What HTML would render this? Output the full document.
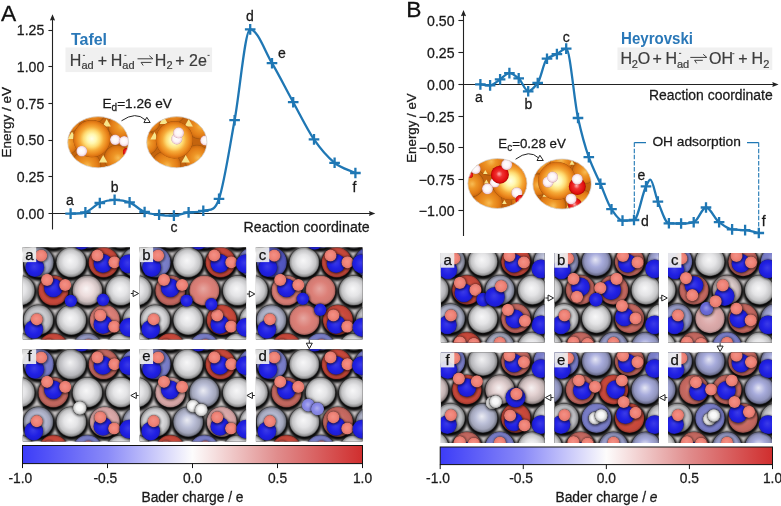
<!DOCTYPE html><html><head><meta charset="utf-8"><style>html,body{margin:0;padding:0;background:#fff;width:781px;height:506px;overflow:hidden}svg{display:block;will-change:transform}text{font-family:"Liberation Sans",sans-serif}</style></head><body>
<svg width="781" height="506" viewBox="0 0 781 506">
<defs>
<linearGradient id="cbar" x1="0" x2="1" y1="0" y2="0"><stop offset="0" stop-color="#3c3cf8"/><stop offset="0.25" stop-color="#8a8af8"/><stop offset="0.5" stop-color="#fdfcfc"/><stop offset="0.75" stop-color="#e08c8c"/><stop offset="1" stop-color="#d02e2e"/></linearGradient>
</defs>
<text x="1.00" y="20.90" font-size="22.80" text-anchor="start" fill="#111" font-weight="normal" stroke="#111" stroke-width="0.28" >A</text>
<text x="406.30" y="16.90" font-size="22.80" text-anchor="start" fill="#111" font-weight="normal" stroke="#111" stroke-width="0.28" >B</text>
<path d="M52.5,229.5V18" stroke="#222" stroke-width="1.1" fill="none"/>
<path d="M52.5,14.2 L49.9,20.6 L52.5,19.9 L55.1,20.6Z" fill="#222"/>
<path d="M48.5,213.5H371" stroke="#222" stroke-width="1.1" fill="none"/>
<path d="M375.3,213.5 L369,210.9 L369.7,213.5 L369,216.1Z" fill="#222"/>
<text x="44.30" y="218.50" font-size="14.10" text-anchor="end" fill="#1a1a1a" font-weight="normal" stroke="#1a1a1a" stroke-width="0.28" >0.00</text>
<path d="M48.4,176.50H52.5" stroke="#222" stroke-width="1.1"/>
<text x="44.30" y="181.86" font-size="14.10" text-anchor="end" fill="#1a1a1a" font-weight="normal" stroke="#1a1a1a" stroke-width="0.28" >0.25</text>
<path d="M48.4,140.50H52.5" stroke="#222" stroke-width="1.1"/>
<text x="44.30" y="145.22" font-size="14.10" text-anchor="end" fill="#1a1a1a" font-weight="normal" stroke="#1a1a1a" stroke-width="0.28" >0.50</text>
<path d="M48.4,103.50H52.5" stroke="#222" stroke-width="1.1"/>
<text x="44.30" y="108.58" font-size="14.10" text-anchor="end" fill="#1a1a1a" font-weight="normal" stroke="#1a1a1a" stroke-width="0.28" >0.75</text>
<path d="M48.4,66.50H52.5" stroke="#222" stroke-width="1.1"/>
<text x="44.30" y="71.94" font-size="14.10" text-anchor="end" fill="#1a1a1a" font-weight="normal" stroke="#1a1a1a" stroke-width="0.28" >1.00</text>
<path d="M48.4,30.50H52.5" stroke="#222" stroke-width="1.1"/>
<text x="44.30" y="35.30" font-size="14.10" text-anchor="end" fill="#1a1a1a" font-weight="normal" stroke="#1a1a1a" stroke-width="0.28" >1.25</text>
<text x="11.20" y="122.20" font-size="13.50" text-anchor="middle" fill="#1a1a1a" font-weight="normal" stroke="#1a1a1a" stroke-width="0.28" transform="rotate(-90 11.2 122.2)">Energy / eV</text>
<text x="243.60" y="231.50" font-size="14.00" text-anchor="start" fill="#1a1a1a" font-weight="normal" stroke="#1a1a1a" stroke-width="0.28" textLength="126" lengthAdjust="spacingAndGlyphs">Reaction coordinate</text>
<path d="M70.60,213.60 C75.53,213.20 80.47,214.19 85.40,212.40 C90.20,210.66 95.00,205.07 99.80,203.00 C104.73,200.87 109.67,199.90 114.60,199.80 C119.60,199.70 124.60,200.37 129.60,202.40 C134.60,204.43 139.60,209.90 144.60,212.00 C149.43,214.03 154.27,214.21 159.10,214.80 C164.03,215.41 168.97,216.00 173.90,215.60 C178.80,215.20 183.70,213.20 188.60,212.40 C193.50,211.60 198.40,212.99 203.30,210.80 C208.53,208.46 213.77,213.95 219.00,198.80 C224.20,183.75 229.40,148.43 234.60,120.20 C239.80,91.97 245.00,29.40 250.20,29.40 C257.47,29.40 264.73,50.90 272.00,63.20 C279.07,75.16 286.13,89.38 293.20,102.20 C300.13,114.78 307.07,129.25 314.00,139.40 C320.87,149.45 327.73,157.23 334.60,162.80 C341.53,168.43 348.47,169.60 355.40,173.00" stroke="#1f77b4" stroke-width="2.3" fill="none" stroke-linejoin="round"/>
<path d="M65.30,213.60H75.90M70.60,208.30V218.90" stroke="#1f77b4" stroke-width="2.30" fill="none"/>
<path d="M80.10,212.40H90.70M85.40,207.10V217.70" stroke="#1f77b4" stroke-width="2.30" fill="none"/>
<path d="M94.50,203.00H105.10M99.80,197.70V208.30" stroke="#1f77b4" stroke-width="2.30" fill="none"/>
<path d="M109.30,199.80H119.90M114.60,194.50V205.10" stroke="#1f77b4" stroke-width="2.30" fill="none"/>
<path d="M124.30,202.40H134.90M129.60,197.10V207.70" stroke="#1f77b4" stroke-width="2.30" fill="none"/>
<path d="M139.30,212.00H149.90M144.60,206.70V217.30" stroke="#1f77b4" stroke-width="2.30" fill="none"/>
<path d="M153.80,214.80H164.40M159.10,209.50V220.10" stroke="#1f77b4" stroke-width="2.30" fill="none"/>
<path d="M168.60,215.60H179.20M173.90,210.30V220.90" stroke="#1f77b4" stroke-width="2.30" fill="none"/>
<path d="M183.30,212.40H193.90M188.60,207.10V217.70" stroke="#1f77b4" stroke-width="2.30" fill="none"/>
<path d="M198.00,210.80H208.60M203.30,205.50V216.10" stroke="#1f77b4" stroke-width="2.30" fill="none"/>
<path d="M213.70,198.80H224.30M219.00,193.50V204.10" stroke="#1f77b4" stroke-width="2.30" fill="none"/>
<path d="M229.30,120.20H239.90M234.60,114.90V125.50" stroke="#1f77b4" stroke-width="2.30" fill="none"/>
<path d="M244.90,29.40H255.50M250.20,24.10V34.70" stroke="#1f77b4" stroke-width="2.30" fill="none"/>
<path d="M266.70,63.20H277.30M272.00,57.90V68.50" stroke="#1f77b4" stroke-width="2.30" fill="none"/>
<path d="M287.90,102.20H298.50M293.20,96.90V107.50" stroke="#1f77b4" stroke-width="2.30" fill="none"/>
<path d="M308.70,139.40H319.30M314.00,134.10V144.70" stroke="#1f77b4" stroke-width="2.30" fill="none"/>
<path d="M329.30,162.80H339.90M334.60,157.50V168.10" stroke="#1f77b4" stroke-width="2.30" fill="none"/>
<path d="M350.10,173.00H360.70M355.40,167.70V178.30" stroke="#1f77b4" stroke-width="2.30" fill="none"/>
<text x="70.00" y="205.00" font-size="14.00" text-anchor="middle" fill="#1a1a1a" font-weight="normal" stroke="#1a1a1a" stroke-width="0.28" >a</text>
<text x="114.60" y="191.50" font-size="14.00" text-anchor="middle" fill="#1a1a1a" font-weight="normal" stroke="#1a1a1a" stroke-width="0.28" >b</text>
<text x="174.00" y="231.50" font-size="14.00" text-anchor="middle" fill="#1a1a1a" font-weight="normal" stroke="#1a1a1a" stroke-width="0.28" >c</text>
<text x="249.80" y="21.00" font-size="14.00" text-anchor="middle" fill="#1a1a1a" font-weight="normal" stroke="#1a1a1a" stroke-width="0.28" >d</text>
<text x="282.00" y="58.00" font-size="14.00" text-anchor="middle" fill="#1a1a1a" font-weight="normal" stroke="#1a1a1a" stroke-width="0.28" >e</text>
<text x="354.50" y="192.00" font-size="14.00" text-anchor="middle" fill="#1a1a1a" font-weight="normal" stroke="#1a1a1a" stroke-width="0.28" >f</text>
<text x="70.90" y="44.50" font-size="16.00" text-anchor="start" fill="#2a78b8" font-weight="bold" >Tafel</text>
<rect x="65.5" y="47.5" width="146.6" height="24.6" fill="#f0f0f0"/>
<text x="69.80" y="65.60" font-size="16.0" fill="#3c3c3c" stroke="#3c3c3c" stroke-width="0.22">H</text>
<text x="81.40" y="68.60" font-size="11.0" fill="#3c3c3c" stroke="#3c3c3c" stroke-width="0.22">ad</text>
<path d="M82.90,55.40H85.00" stroke="#3c3c3c" stroke-width="0.9"/>
<text x="97.80" y="65.60" font-size="16.0" fill="#3c3c3c" stroke="#3c3c3c" stroke-width="0.22">+</text>
<text x="110.80" y="65.60" font-size="16.0" fill="#3c3c3c" stroke="#3c3c3c" stroke-width="0.22">H</text>
<text x="122.30" y="68.60" font-size="11.0" fill="#3c3c3c" stroke="#3c3c3c" stroke-width="0.22">ad</text>
<path d="M124.40,55.40H126.40" stroke="#3c3c3c" stroke-width="0.9"/>
<path d="M137.50,58.80H152.90L149.30,55.70M151.40,62.40H141.10M141.10,62.40L143.20,65.50" stroke="#3c3c3c" stroke-width="1" fill="none"/>
<text x="154.70" y="65.60" font-size="16.0" fill="#3c3c3c" stroke="#3c3c3c" stroke-width="0.22">H</text>
<text x="166.60" y="68.70" font-size="11.0" fill="#3c3c3c" stroke="#3c3c3c" stroke-width="0.22">2</text>
<text x="175.20" y="65.60" font-size="16.0" fill="#3c3c3c" stroke="#3c3c3c" stroke-width="0.22">+</text>
<text x="189.00" y="65.60" font-size="16.0" fill="#3c3c3c" stroke="#3c3c3c" stroke-width="0.22">2e</text>
<path d="M207.50,55.40H209.60" stroke="#3c3c3c" stroke-width="0.9"/>
<text x="102.5" y="108.4" font-size="13.6" fill="#1a1a1a" stroke="#1a1a1a" stroke-width="0.28">E<tspan font-size="10" dy="3">d</tspan><tspan dy="-3">=1.26 eV</tspan></text>
<path d="M463.5,236V14" stroke="#222" stroke-width="1.1" fill="none"/>
<path d="M463.5,9.9 L460.9,16.3 L463.5,15.6 L466.1,16.3Z" fill="#222"/>
<path d="M463.5,84.5H773" stroke="#222" stroke-width="1.1" fill="none"/>
<path d="M778.6,84.5 L772.3,81.9 L773,84.5 L772.3,87.1Z" fill="#222"/>
<path d="M458.4,20.50H463.5" stroke="#222" stroke-width="1.1"/>
<text x="454.50" y="25.50" font-size="14.10" text-anchor="end" fill="#1a1a1a" font-weight="normal" stroke="#1a1a1a" stroke-width="0.28" >0.50</text>
<path d="M458.4,52.50H463.5" stroke="#222" stroke-width="1.1"/>
<text x="454.50" y="57.50" font-size="14.10" text-anchor="end" fill="#1a1a1a" font-weight="normal" stroke="#1a1a1a" stroke-width="0.28" >0.25</text>
<path d="M458.4,84.50H463.5" stroke="#222" stroke-width="1.1"/>
<text x="454.50" y="89.50" font-size="14.10" text-anchor="end" fill="#1a1a1a" font-weight="normal" stroke="#1a1a1a" stroke-width="0.28" >0.00</text>
<path d="M458.4,116.50H463.5" stroke="#222" stroke-width="1.1"/>
<text x="454.50" y="121.50" font-size="14.10" text-anchor="end" fill="#1a1a1a" font-weight="normal" stroke="#1a1a1a" stroke-width="0.28" >−0.25</text>
<path d="M458.4,147.50H463.5" stroke="#222" stroke-width="1.1"/>
<text x="454.50" y="153.00" font-size="14.10" text-anchor="end" fill="#1a1a1a" font-weight="normal" stroke="#1a1a1a" stroke-width="0.28" >−0.50</text>
<path d="M458.4,179.50H463.5" stroke="#222" stroke-width="1.1"/>
<text x="454.50" y="184.50" font-size="14.10" text-anchor="end" fill="#1a1a1a" font-weight="normal" stroke="#1a1a1a" stroke-width="0.28" >−0.75</text>
<path d="M458.4,210.50H463.5" stroke="#222" stroke-width="1.1"/>
<text x="454.50" y="216.00" font-size="14.10" text-anchor="end" fill="#1a1a1a" font-weight="normal" stroke="#1a1a1a" stroke-width="0.28" >−1.00</text>
<text x="416.30" y="128.00" font-size="13.30" text-anchor="middle" fill="#1a1a1a" font-weight="normal" stroke="#1a1a1a" stroke-width="0.28" transform="rotate(-90 416.3 128)">Energy / eV</text>
<text x="648.90" y="100.40" font-size="14.00" text-anchor="start" fill="#1a1a1a" font-weight="normal" stroke="#1a1a1a" stroke-width="0.28" textLength="123.8" lengthAdjust="spacingAndGlyphs">Reaction coordinate</text>
<path d="M634.3,142.6H646M747,142.6H758.7" stroke="#1f77b4" stroke-width="1.1" fill="none"/>
<path d="M634.3,142.6V219.5M758.7,142.6V231" stroke="#1f77b4" stroke-width="1.1" fill="none" stroke-dasharray="4.5,1.6"/>
<text x="652.40" y="145.70" font-size="13.60" text-anchor="start" fill="#1a1a1a" font-weight="normal" stroke="#1a1a1a" stroke-width="0.28" textLength="88.5" lengthAdjust="spacingAndGlyphs">OH adsorption</text>
<path d="M480.40,84.40 C483.63,84.73 486.87,85.40 490.10,85.40 C493.43,85.40 496.77,81.52 500.10,79.40 C503.20,77.43 506.30,73.10 509.40,73.10 C512.50,73.10 515.60,75.91 518.70,78.40 C521.87,80.94 525.03,91.30 528.20,91.30 C531.37,91.30 534.53,87.15 537.70,83.00 C540.80,78.93 543.90,61.16 547.00,58.70 C550.30,56.08 553.60,55.82 556.90,54.10 C560.00,52.48 563.10,48.60 566.20,48.60 C570.13,48.60 574.07,100.40 578.00,118.00 C581.60,134.10 585.20,147.05 588.80,157.20 C592.67,168.10 596.53,174.94 600.40,183.80 C604.10,192.28 607.80,203.92 611.50,209.20 C615.17,214.43 618.83,220.60 622.50,220.60 C626.33,220.60 630.17,220.39 634.00,220.00 C638.00,219.59 642.00,194.15 646.00,186.40 C647.43,183.62 648.87,179.60 650.30,179.60 C652.83,179.60 655.37,195.59 657.90,201.60 C661.57,210.30 665.23,223.18 668.90,223.30 C672.97,223.43 677.03,223.50 681.10,223.50 C685.30,223.50 689.50,223.04 693.70,222.30 C697.80,221.57 701.90,207.50 706.00,207.50 C710.37,207.50 714.73,218.96 719.10,222.20 C723.43,225.41 727.77,228.97 732.10,229.40 C736.43,229.83 740.77,229.73 745.10,230.10 C749.67,230.49 754.23,232.03 758.80,233.00" stroke="#1f77b4" stroke-width="2.3" fill="none" stroke-linejoin="round"/>
<path d="M475.10,84.40H485.70M480.40,79.10V89.70" stroke="#1f77b4" stroke-width="2.30" fill="none"/>
<path d="M484.80,85.40H495.40M490.10,80.10V90.70" stroke="#1f77b4" stroke-width="2.30" fill="none"/>
<path d="M494.80,79.40H505.40M500.10,74.10V84.70" stroke="#1f77b4" stroke-width="2.30" fill="none"/>
<path d="M504.10,73.10H514.70M509.40,67.80V78.40" stroke="#1f77b4" stroke-width="2.30" fill="none"/>
<path d="M513.40,78.40H524.00M518.70,73.10V83.70" stroke="#1f77b4" stroke-width="2.30" fill="none"/>
<path d="M522.90,91.30H533.50M528.20,86.00V96.60" stroke="#1f77b4" stroke-width="2.30" fill="none"/>
<path d="M532.40,83.00H543.00M537.70,77.70V88.30" stroke="#1f77b4" stroke-width="2.30" fill="none"/>
<path d="M541.70,58.70H552.30M547.00,53.40V64.00" stroke="#1f77b4" stroke-width="2.30" fill="none"/>
<path d="M551.60,54.10H562.20M556.90,48.80V59.40" stroke="#1f77b4" stroke-width="2.30" fill="none"/>
<path d="M560.90,48.60H571.50M566.20,43.30V53.90" stroke="#1f77b4" stroke-width="2.30" fill="none"/>
<path d="M572.70,118.00H583.30M578.00,112.70V123.30" stroke="#1f77b4" stroke-width="2.30" fill="none"/>
<path d="M583.50,157.20H594.10M588.80,151.90V162.50" stroke="#1f77b4" stroke-width="2.30" fill="none"/>
<path d="M595.10,183.80H605.70M600.40,178.50V189.10" stroke="#1f77b4" stroke-width="2.30" fill="none"/>
<path d="M606.20,209.20H616.80M611.50,203.90V214.50" stroke="#1f77b4" stroke-width="2.30" fill="none"/>
<path d="M617.20,220.60H627.80M622.50,215.30V225.90" stroke="#1f77b4" stroke-width="2.30" fill="none"/>
<path d="M628.70,220.00H639.30M634.00,214.70V225.30" stroke="#1f77b4" stroke-width="2.30" fill="none"/>
<path d="M640.70,186.40H651.30M646.00,181.10V191.70" stroke="#1f77b4" stroke-width="2.30" fill="none"/>
<path d="M652.60,201.60H663.20M657.90,196.30V206.90" stroke="#1f77b4" stroke-width="2.30" fill="none"/>
<path d="M663.60,223.30H674.20M668.90,218.00V228.60" stroke="#1f77b4" stroke-width="2.30" fill="none"/>
<path d="M675.80,223.50H686.40M681.10,218.20V228.80" stroke="#1f77b4" stroke-width="2.30" fill="none"/>
<path d="M688.40,222.30H699.00M693.70,217.00V227.60" stroke="#1f77b4" stroke-width="2.30" fill="none"/>
<path d="M700.70,207.50H711.30M706.00,202.20V212.80" stroke="#1f77b4" stroke-width="2.30" fill="none"/>
<path d="M713.80,222.20H724.40M719.10,216.90V227.50" stroke="#1f77b4" stroke-width="2.30" fill="none"/>
<path d="M726.80,229.40H737.40M732.10,224.10V234.70" stroke="#1f77b4" stroke-width="2.30" fill="none"/>
<path d="M739.80,230.10H750.40M745.10,224.80V235.40" stroke="#1f77b4" stroke-width="2.30" fill="none"/>
<path d="M753.50,233.00H764.10M758.80,227.70V238.30" stroke="#1f77b4" stroke-width="2.30" fill="none"/>
<text x="479.00" y="101.50" font-size="14.00" text-anchor="middle" fill="#1a1a1a" font-weight="normal" stroke="#1a1a1a" stroke-width="0.28" >a</text>
<text x="528.50" y="108.50" font-size="14.00" text-anchor="middle" fill="#1a1a1a" font-weight="normal" stroke="#1a1a1a" stroke-width="0.28" >b</text>
<text x="566.30" y="41.50" font-size="14.00" text-anchor="middle" fill="#1a1a1a" font-weight="normal" stroke="#1a1a1a" stroke-width="0.28" >c</text>
<text x="645.00" y="226.00" font-size="14.00" text-anchor="middle" fill="#1a1a1a" font-weight="normal" stroke="#1a1a1a" stroke-width="0.28" >d</text>
<text x="641.30" y="180.00" font-size="14.00" text-anchor="middle" fill="#1a1a1a" font-weight="normal" stroke="#1a1a1a" stroke-width="0.28" >e</text>
<text x="763.80" y="226.00" font-size="14.00" text-anchor="middle" fill="#1a1a1a" font-weight="normal" stroke="#1a1a1a" stroke-width="0.28" >f</text>
<text x="621.00" y="43.90" font-size="16.00" text-anchor="start" fill="#2a78b8" font-weight="bold" textLength="72" lengthAdjust="spacingAndGlyphs">Heyrovski</text>
<rect x="617.5" y="47.5" width="154.8" height="22.5" fill="#f0f0f0"/>
<text x="620.40" y="64.20" font-size="16.0" fill="#3c3c3c" stroke="#3c3c3c" stroke-width="0.22">H</text>
<text x="631.85" y="67.50" font-size="11.0" fill="#3c3c3c" stroke="#3c3c3c" stroke-width="0.22">2</text>
<text x="637.70" y="64.20" font-size="16.0" fill="#3c3c3c" stroke="#3c3c3c" stroke-width="0.22">O</text>
<text x="652.60" y="64.20" font-size="16.0" fill="#3c3c3c" stroke="#3c3c3c" stroke-width="0.22">+</text>
<text x="665.40" y="64.20" font-size="16.0" fill="#3c3c3c" stroke="#3c3c3c" stroke-width="0.22">H</text>
<text x="677.00" y="67.50" font-size="11.0" fill="#3c3c3c" stroke="#3c3c3c" stroke-width="0.22">ad</text>
<path d="M679.00,53.40H681.20" stroke="#3c3c3c" stroke-width="0.9"/>
<path d="M690.30,57.40H706.80L703.20,54.30M702.80,60.30H694.60M694.60,60.30L696.70,63.40" stroke="#3c3c3c" stroke-width="1" fill="none"/>
<text x="709.10" y="64.20" font-size="16.0" fill="#3c3c3c" stroke="#3c3c3c" stroke-width="0.22">OH</text>
<path d="M732.30,53.70H734.40" stroke="#3c3c3c" stroke-width="0.9"/>
<text x="738.30" y="64.20" font-size="16.0" fill="#3c3c3c" stroke="#3c3c3c" stroke-width="0.22">+</text>
<text x="751.60" y="64.20" font-size="16.0" fill="#3c3c3c" stroke="#3c3c3c" stroke-width="0.22">H</text>
<text x="763.15" y="67.50" font-size="11.0" fill="#3c3c3c" stroke="#3c3c3c" stroke-width="0.22">2</text>
<text x="498.3" y="148.3" font-size="13.3" fill="#1a1a1a" stroke="#1a1a1a" stroke-width="0.28">E<tspan font-size="10" dy="3">c</tspan><tspan dy="-3">=0.28 eV</tspan></text>
<rect x="22.50" y="445.50" width="340.00" height="18.10" fill="url(#cbar)" stroke="#111" stroke-width="1"/><path d="M22.50,463.60V468.10" stroke="#111" stroke-width="1"/><text x="20.30" y="483.30" font-size="13.80" text-anchor="middle" fill="#1a1a1a" font-weight="normal" stroke="#1a1a1a" stroke-width="0.28" >-1.0</text><path d="M107.50,463.60V468.10" stroke="#111" stroke-width="1"/><text x="105.30" y="483.30" font-size="13.80" text-anchor="middle" fill="#1a1a1a" font-weight="normal" stroke="#1a1a1a" stroke-width="0.28" >-0.5</text><path d="M192.50,463.60V468.10" stroke="#111" stroke-width="1"/><text x="192.50" y="483.30" font-size="13.80" text-anchor="middle" fill="#1a1a1a" font-weight="normal" stroke="#1a1a1a" stroke-width="0.28" >0.0</text><path d="M277.50,463.60V468.10" stroke="#111" stroke-width="1"/><text x="277.50" y="483.30" font-size="13.80" text-anchor="middle" fill="#1a1a1a" font-weight="normal" stroke="#1a1a1a" stroke-width="0.28" >0.5</text><path d="M362.50,463.60V468.10" stroke="#111" stroke-width="1"/><text x="362.50" y="483.30" font-size="13.80" text-anchor="middle" fill="#1a1a1a" font-weight="normal" stroke="#1a1a1a" stroke-width="0.28" >1.0</text><text x="192.50" y="502.00" font-size="13.80" text-anchor="middle" fill="#1a1a1a" font-weight="normal" stroke="#1a1a1a" stroke-width="0.28" >Bader charge / e</text>
<rect x="440.20" y="447.00" width="332.30" height="17.60" fill="url(#cbar)" stroke="#111" stroke-width="1"/><path d="M440.20,464.60V469.10" stroke="#111" stroke-width="1"/><text x="438.00" y="483.30" font-size="13.80" text-anchor="middle" fill="#1a1a1a" font-weight="normal" stroke="#1a1a1a" stroke-width="0.28" >-1.0</text><path d="M523.27,464.60V469.10" stroke="#111" stroke-width="1"/><text x="521.07" y="483.30" font-size="13.80" text-anchor="middle" fill="#1a1a1a" font-weight="normal" stroke="#1a1a1a" stroke-width="0.28" >-0.5</text><path d="M606.35,464.60V469.10" stroke="#111" stroke-width="1"/><text x="606.35" y="483.30" font-size="13.80" text-anchor="middle" fill="#1a1a1a" font-weight="normal" stroke="#1a1a1a" stroke-width="0.28" >0.0</text><path d="M689.42,464.60V469.10" stroke="#111" stroke-width="1"/><text x="689.42" y="483.30" font-size="13.80" text-anchor="middle" fill="#1a1a1a" font-weight="normal" stroke="#1a1a1a" stroke-width="0.28" >0.5</text><path d="M772.50,464.60V469.10" stroke="#111" stroke-width="1"/><text x="772.50" y="483.30" font-size="13.80" text-anchor="middle" fill="#1a1a1a" font-weight="normal" stroke="#1a1a1a" stroke-width="0.28" >1.0</text><text x="606.50" y="502.00" font-size="13.80" text-anchor="middle" fill="#1a1a1a" font-weight="normal" stroke="#1a1a1a" stroke-width="0.28" >Bader charge / <tspan font-style="italic">e</tspan></text>
<defs><filter id="blr" x="-20%" y="-20%" width="140%" height="140%"><feGaussianBlur stdDeviation="1.0"/></filter>
<radialGradient id="gW" cx="0.5" cy="0.5" r="0.5" fx="0.46" fy="0.44"><stop offset="0.00" stop-color="#f7f7f8"/><stop offset="0.45" stop-color="#e4e4e6"/><stop offset="0.78" stop-color="#c4c4c6"/><stop offset="0.93" stop-color="#929293"/><stop offset="1.00" stop-color="#444445"/></radialGradient><radialGradient id="gW2" cx="0.5" cy="0.5" r="0.5" fx="0.46" fy="0.44"><stop offset="0.00" stop-color="#f2f2f3"/><stop offset="0.45" stop-color="#d4d4d8"/><stop offset="0.78" stop-color="#b6b6ba"/><stop offset="0.93" stop-color="#88888a"/><stop offset="1.00" stop-color="#404041"/></radialGradient><radialGradient id="gG" cx="0.5" cy="0.5" r="0.5" fx="0.46" fy="0.44"><stop offset="0.00" stop-color="#ebecf3"/><stop offset="0.45" stop-color="#bcc0d8"/><stop offset="0.78" stop-color="#a2a5ba"/><stop offset="0.93" stop-color="#787b8a"/><stop offset="1.00" stop-color="#383a41"/></radialGradient><radialGradient id="gLB" cx="0.5" cy="0.5" r="0.5" fx="0.46" fy="0.44"><stop offset="0.00" stop-color="#e5e6f4"/><stop offset="0.45" stop-color="#a8acdc"/><stop offset="0.78" stop-color="#9094bd"/><stop offset="0.93" stop-color="#6c6e8d"/><stop offset="1.00" stop-color="#323442"/></radialGradient><radialGradient id="gMB" cx="0.5" cy="0.5" r="0.5" fx="0.46" fy="0.44"><stop offset="0.00" stop-color="#a3a6db"/><stop offset="0.55" stop-color="#7c80cc"/><stop offset="0.86" stop-color="#767ac2"/><stop offset="0.95" stop-color="#6366a3"/><stop offset="1.00" stop-color="#3e4066"/></radialGradient><radialGradient id="gDB" cx="0.5" cy="0.5" r="0.5" fx="0.46" fy="0.44"><stop offset="0.00" stop-color="#878ad6"/><stop offset="0.55" stop-color="#5458c4"/><stop offset="0.86" stop-color="#5054ba"/><stop offset="0.95" stop-color="#43469d"/><stop offset="1.00" stop-color="#2a2c62"/></radialGradient><radialGradient id="gPW" cx="0.5" cy="0.5" r="0.5" fx="0.46" fy="0.44"><stop offset="0.00" stop-color="#f9f4f4"/><stop offset="0.45" stop-color="#ecdcdc"/><stop offset="0.78" stop-color="#cbbdbd"/><stop offset="0.93" stop-color="#978d8d"/><stop offset="1.00" stop-color="#474242"/></radialGradient><radialGradient id="gPW2" cx="0.5" cy="0.5" r="0.5" fx="0.46" fy="0.44"><stop offset="0.00" stop-color="#f6f1f1"/><stop offset="0.45" stop-color="#e2d0d0"/><stop offset="0.78" stop-color="#c2b3b3"/><stop offset="0.93" stop-color="#918585"/><stop offset="1.00" stop-color="#443e3e"/></radialGradient><radialGradient id="gP" cx="0.5" cy="0.5" r="0.5" fx="0.46" fy="0.44"><stop offset="0.00" stop-color="#e6c4c4"/><stop offset="0.55" stop-color="#dcaaaa"/><stop offset="0.86" stop-color="#d1a2a2"/><stop offset="0.95" stop-color="#b08888"/><stop offset="1.00" stop-color="#6e5555"/></radialGradient><radialGradient id="gS" cx="0.5" cy="0.5" r="0.5" fx="0.46" fy="0.44"><stop offset="0.00" stop-color="#e6a6a0"/><stop offset="0.55" stop-color="#dc8078"/><stop offset="0.86" stop-color="#d17a72"/><stop offset="0.95" stop-color="#b06660"/><stop offset="1.00" stop-color="#6e403c"/></radialGradient><radialGradient id="gRP" cx="0.5" cy="0.5" r="0.5" fx="0.46" fy="0.44"><stop offset="0.00" stop-color="#d89791"/><stop offset="0.55" stop-color="#c86a62"/><stop offset="0.86" stop-color="#be655d"/><stop offset="0.95" stop-color="#a0554e"/><stop offset="1.00" stop-color="#643531"/></radialGradient><radialGradient id="gR" cx="0.5" cy="0.5" r="0.5" fx="0.46" fy="0.44"><stop offset="0.00" stop-color="#db8076"/><stop offset="0.55" stop-color="#cc4a3c"/><stop offset="0.86" stop-color="#c24639"/><stop offset="0.95" stop-color="#a33b30"/><stop offset="1.00" stop-color="#66251e"/></radialGradient><radialGradient id="gN" cx="0.5" cy="0.5" r="0.5" fx="0.46" fy="0.44"><stop offset="0.00" stop-color="#3b3be7"/><stop offset="0.60" stop-color="#2020e4"/><stop offset="0.90" stop-color="#1d1dd2"/><stop offset="1.00" stop-color="#151594"/></radialGradient><radialGradient id="gn" cx="0.5" cy="0.5" r="0.5" fx="0.46" fy="0.44"><stop offset="0.00" stop-color="#4c4ceb"/><stop offset="0.60" stop-color="#3434e8"/><stop offset="0.90" stop-color="#3030d5"/><stop offset="1.00" stop-color="#222297"/></radialGradient><radialGradient id="gh" cx="0.5" cy="0.5" r="0.5" fx="0.46" fy="0.44"><stop offset="0.00" stop-color="#f29186"/><stop offset="0.60" stop-color="#f08276"/><stop offset="0.90" stop-color="#dd786d"/><stop offset="1.00" stop-color="#9c544d"/></radialGradient><radialGradient id="gH" cx="0.5" cy="0.5" r="0.5" fx="0.46" fy="0.44"><stop offset="0.00" stop-color="#fcfcfc"/><stop offset="0.45" stop-color="#f6f6f6"/><stop offset="0.78" stop-color="#d4d4d4"/><stop offset="0.93" stop-color="#9d9d9d"/><stop offset="1.00" stop-color="#4a4a4a"/></radialGradient><radialGradient id="gHb" cx="0.5" cy="0.5" r="0.5" fx="0.46" fy="0.44"><stop offset="0.00" stop-color="#adadef"/><stop offset="0.55" stop-color="#8a8ae8"/><stop offset="0.86" stop-color="#8383dc"/><stop offset="0.95" stop-color="#6e6eba"/><stop offset="1.00" stop-color="#454574"/></radialGradient><radialGradient id="gHb2" cx="0.5" cy="0.5" r="0.5" fx="0.46" fy="0.44"><stop offset="0.00" stop-color="#9797e4"/><stop offset="0.55" stop-color="#6a6ad8"/><stop offset="0.86" stop-color="#6565cd"/><stop offset="0.95" stop-color="#5555ad"/><stop offset="1.00" stop-color="#35356c"/></radialGradient>
<clipPath id="clip0"><rect x="22.8" y="247.3" width="107.2" height="92.2"/></clipPath>
<clipPath id="clip1"><rect x="139.7" y="247.3" width="106.4" height="92.2"/></clipPath>
<clipPath id="clip2"><rect x="255.9" y="247.3" width="106.6" height="92.2"/></clipPath>
<clipPath id="clip3"><rect x="22.8" y="349.2" width="107.2" height="92.4"/></clipPath>
<clipPath id="clip4"><rect x="139.7" y="349.2" width="106.4" height="92.4"/></clipPath>
<clipPath id="clip5"><rect x="255.9" y="349.2" width="106.6" height="92.4"/></clipPath>
<clipPath id="clip6"><rect x="440.9" y="252.9" width="103.7" height="89.6"/></clipPath>
<clipPath id="clip7"><rect x="554.5" y="252.9" width="104.3" height="89.6"/></clipPath>
<clipPath id="clip8"><rect x="668.0" y="252.9" width="104.0" height="89.6"/></clipPath>
<clipPath id="clip9"><rect x="440.9" y="352.6" width="103.7" height="90.4"/></clipPath>
<clipPath id="clip10"><rect x="554.5" y="352.6" width="104.3" height="90.4"/></clipPath>
<clipPath id="clip11"><rect x="668.0" y="352.6" width="104.0" height="90.4"/></clipPath>
</defs>
<g clip-path="url(#clip0)"><rect x="22.8" y="247.3" width="107.2" height="92.2" fill="#c6c2c2"/><circle cx="20.0" cy="235.1" r="17.0" fill="#000" opacity="0.95" filter="url(#blr)"/><circle cx="19.8" cy="233.5" r="15.1" fill="url(#gW)"/><circle cx="53.6" cy="235.1" r="17.0" fill="#000" opacity="0.95" filter="url(#blr)"/><circle cx="53.4" cy="233.5" r="15.1" fill="url(#gW)"/><circle cx="87.6" cy="235.1" r="17.0" fill="#000" opacity="0.95" filter="url(#blr)"/><circle cx="87.4" cy="233.5" r="15.1" fill="url(#gMB)"/><circle cx="121.0" cy="235.1" r="17.0" fill="#000" opacity="0.95" filter="url(#blr)"/><circle cx="120.8" cy="233.5" r="15.1" fill="url(#gW)"/><circle cx="39.0" cy="263.9" r="17.0" fill="#000" opacity="0.95" filter="url(#blr)"/><circle cx="38.8" cy="262.3" r="15.1" fill="url(#gG)"/><circle cx="71.4" cy="263.9" r="17.0" fill="#000" opacity="0.95" filter="url(#blr)"/><circle cx="71.2" cy="262.3" r="15.1" fill="url(#gW)"/><circle cx="103.8" cy="263.9" r="17.0" fill="#000" opacity="0.95" filter="url(#blr)"/><circle cx="103.6" cy="262.3" r="15.1" fill="url(#gR)"/><circle cx="136.4" cy="263.9" r="17.0" fill="#000" opacity="0.95" filter="url(#blr)"/><circle cx="136.2" cy="262.3" r="15.1" fill="url(#gG)"/><circle cx="20.0" cy="292.1" r="17.0" fill="#000" opacity="0.95" filter="url(#blr)"/><circle cx="19.8" cy="290.5" r="15.1" fill="url(#gW)"/><circle cx="53.6" cy="292.1" r="17.0" fill="#000" opacity="0.95" filter="url(#blr)"/><circle cx="53.4" cy="290.5" r="15.1" fill="url(#gR)"/><circle cx="87.6" cy="292.1" r="17.0" fill="#000" opacity="0.95" filter="url(#blr)"/><circle cx="87.4" cy="290.5" r="15.1" fill="url(#gPW)"/><circle cx="121.0" cy="292.1" r="17.0" fill="#000" opacity="0.95" filter="url(#blr)"/><circle cx="120.8" cy="290.5" r="15.1" fill="url(#gW)"/><circle cx="38.6" cy="321.5" r="17.0" fill="#000" opacity="0.95" filter="url(#blr)"/><circle cx="38.4" cy="319.9" r="15.1" fill="url(#gW2)"/><circle cx="71.5" cy="321.5" r="17.0" fill="#000" opacity="0.95" filter="url(#blr)"/><circle cx="71.3" cy="319.9" r="15.1" fill="url(#gW)"/><circle cx="105.0" cy="321.5" r="17.0" fill="#000" opacity="0.95" filter="url(#blr)"/><circle cx="104.8" cy="319.9" r="15.1" fill="url(#gS)"/><circle cx="138.0" cy="321.5" r="17.0" fill="#000" opacity="0.95" filter="url(#blr)"/><circle cx="137.8" cy="319.9" r="15.1" fill="url(#gW2)"/><circle cx="20.0" cy="349.9" r="17.0" fill="#000" opacity="0.95" filter="url(#blr)"/><circle cx="19.8" cy="348.3" r="15.1" fill="url(#gW)"/><circle cx="53.6" cy="349.9" r="17.0" fill="#000" opacity="0.95" filter="url(#blr)"/><circle cx="53.4" cy="348.3" r="15.1" fill="url(#gR)"/><circle cx="87.6" cy="349.9" r="17.0" fill="#000" opacity="0.95" filter="url(#blr)"/><circle cx="87.4" cy="348.3" r="15.1" fill="url(#gLB)"/><circle cx="121.0" cy="349.9" r="17.0" fill="#000" opacity="0.95" filter="url(#blr)"/><circle cx="120.8" cy="348.3" r="15.1" fill="url(#gW)"/><circle cx="35.1" cy="268.0" r="10.2" fill="#000" opacity="0.55" filter="url(#blr)"/><circle cx="34.8" cy="267.5" r="9.4" fill="url(#gN)"/><circle cx="41.5" cy="256.1" r="6.9" fill="#000" opacity="0.55" filter="url(#blr)"/><circle cx="41.2" cy="255.6" r="6.1" fill="url(#gh)"/><circle cx="103.3" cy="264.0" r="10.2" fill="#000" opacity="0.55" filter="url(#blr)"/><circle cx="103.0" cy="263.5" r="9.4" fill="url(#gN)"/><circle cx="97.7" cy="256.0" r="6.9" fill="#000" opacity="0.55" filter="url(#blr)"/><circle cx="97.4" cy="255.5" r="6.1" fill="url(#gh)"/><circle cx="114.7" cy="262.8" r="6.9" fill="#000" opacity="0.55" filter="url(#blr)"/><circle cx="114.4" cy="262.3" r="6.1" fill="url(#gh)"/><circle cx="53.7" cy="288.4" r="10.2" fill="#000" opacity="0.55" filter="url(#blr)"/><circle cx="53.4" cy="287.9" r="9.4" fill="url(#gN)"/><circle cx="47.4" cy="280.4" r="6.9" fill="#000" opacity="0.55" filter="url(#blr)"/><circle cx="47.1" cy="279.9" r="6.1" fill="url(#gh)"/><circle cx="65.5" cy="285.5" r="6.9" fill="#000" opacity="0.55" filter="url(#blr)"/><circle cx="65.2" cy="285.0" r="6.1" fill="url(#gh)"/><circle cx="34.1" cy="329.8" r="10.2" fill="#000" opacity="0.55" filter="url(#blr)"/><circle cx="33.8" cy="329.3" r="9.4" fill="url(#gN)"/><circle cx="37.1" cy="319.8" r="6.9" fill="#000" opacity="0.55" filter="url(#blr)"/><circle cx="36.8" cy="319.3" r="6.1" fill="url(#gh)"/><circle cx="103.3" cy="325.0" r="10.2" fill="#000" opacity="0.55" filter="url(#blr)"/><circle cx="103.0" cy="324.5" r="9.4" fill="url(#gN)"/><circle cx="100.6" cy="315.9" r="6.9" fill="#000" opacity="0.55" filter="url(#blr)"/><circle cx="100.3" cy="315.4" r="6.1" fill="url(#gh)"/><circle cx="114.5" cy="327.1" r="6.9" fill="#000" opacity="0.55" filter="url(#blr)"/><circle cx="114.2" cy="326.6" r="6.1" fill="url(#gh)"/><circle cx="128.6" cy="264.3" r="10.2" fill="#000" opacity="0.55" filter="url(#blr)"/><circle cx="128.3" cy="263.8" r="9.4" fill="url(#gN)"/><circle cx="129.1" cy="327.8" r="10.2" fill="#000" opacity="0.55" filter="url(#blr)"/><circle cx="128.8" cy="327.3" r="9.4" fill="url(#gN)"/><circle cx="81.9" cy="240.8" r="10.2" fill="#000" opacity="0.55" filter="url(#blr)"/><circle cx="81.6" cy="240.3" r="9.4" fill="url(#gN)"/><circle cx="55.1" cy="353.8" r="10.2" fill="#000" opacity="0.55" filter="url(#blr)"/><circle cx="54.8" cy="353.3" r="9.4" fill="url(#gN)"/><circle cx="49.1" cy="345.3" r="6.9" fill="#000" opacity="0.55" filter="url(#blr)"/><circle cx="48.8" cy="344.8" r="6.1" fill="url(#gh)"/><circle cx="63.1" cy="347.3" r="6.9" fill="#000" opacity="0.55" filter="url(#blr)"/><circle cx="62.8" cy="346.8" r="6.1" fill="url(#gh)"/><circle cx="88.7" cy="353.8" r="10.2" fill="#000" opacity="0.55" filter="url(#blr)"/><circle cx="88.4" cy="353.3" r="9.4" fill="url(#gN)"/><circle cx="88.7" cy="345.3" r="6.9" fill="#000" opacity="0.55" filter="url(#blr)"/><circle cx="88.4" cy="344.8" r="6.1" fill="url(#gh)"/><circle cx="71.1" cy="301.4" r="7.0" fill="#000" opacity="0.55" filter="url(#blr)"/><circle cx="70.8" cy="300.9" r="6.2" fill="url(#gN)"/><circle cx="103.4" cy="300.3" r="7.0" fill="#000" opacity="0.55" filter="url(#blr)"/><circle cx="103.1" cy="299.8" r="6.2" fill="url(#gN)"/></g><rect x="22.8" y="247.3" width="13.4" height="14.8" fill="#eeeeee" opacity="0.92"/><text x="29.5" y="259.5" font-size="15" text-anchor="middle" fill="#111" stroke="#111" stroke-width="0.25">a</text>
<g clip-path="url(#clip1)"><rect x="139.7" y="247.3" width="106.4" height="92.2" fill="#c6c2c2"/><circle cx="136.9" cy="235.1" r="17.0" fill="#000" opacity="0.95" filter="url(#blr)"/><circle cx="136.7" cy="233.5" r="15.1" fill="url(#gW)"/><circle cx="170.5" cy="235.1" r="17.0" fill="#000" opacity="0.95" filter="url(#blr)"/><circle cx="170.3" cy="233.5" r="15.1" fill="url(#gW)"/><circle cx="204.5" cy="235.1" r="17.0" fill="#000" opacity="0.95" filter="url(#blr)"/><circle cx="204.3" cy="233.5" r="15.1" fill="url(#gMB)"/><circle cx="237.9" cy="235.1" r="17.0" fill="#000" opacity="0.95" filter="url(#blr)"/><circle cx="237.7" cy="233.5" r="15.1" fill="url(#gW)"/><circle cx="155.9" cy="263.9" r="17.0" fill="#000" opacity="0.95" filter="url(#blr)"/><circle cx="155.7" cy="262.3" r="15.1" fill="url(#gMB)"/><circle cx="188.3" cy="263.9" r="17.0" fill="#000" opacity="0.95" filter="url(#blr)"/><circle cx="188.1" cy="262.3" r="15.1" fill="url(#gW)"/><circle cx="220.7" cy="263.9" r="17.0" fill="#000" opacity="0.95" filter="url(#blr)"/><circle cx="220.5" cy="262.3" r="15.1" fill="url(#gR)"/><circle cx="253.3" cy="263.9" r="17.0" fill="#000" opacity="0.95" filter="url(#blr)"/><circle cx="253.1" cy="262.3" r="15.1" fill="url(#gMB)"/><circle cx="136.9" cy="292.1" r="17.0" fill="#000" opacity="0.95" filter="url(#blr)"/><circle cx="136.7" cy="290.5" r="15.1" fill="url(#gW)"/><circle cx="170.5" cy="292.1" r="17.0" fill="#000" opacity="0.95" filter="url(#blr)"/><circle cx="170.3" cy="290.5" r="15.1" fill="url(#gRP)"/><circle cx="204.5" cy="292.1" r="17.0" fill="#000" opacity="0.95" filter="url(#blr)"/><circle cx="204.3" cy="290.5" r="15.1" fill="url(#gS)"/><circle cx="237.9" cy="292.1" r="17.0" fill="#000" opacity="0.95" filter="url(#blr)"/><circle cx="237.7" cy="290.5" r="15.1" fill="url(#gW)"/><circle cx="155.5" cy="321.5" r="17.0" fill="#000" opacity="0.95" filter="url(#blr)"/><circle cx="155.3" cy="319.9" r="15.1" fill="url(#gW)"/><circle cx="188.4" cy="321.5" r="17.0" fill="#000" opacity="0.95" filter="url(#blr)"/><circle cx="188.2" cy="319.9" r="15.1" fill="url(#gW)"/><circle cx="221.9" cy="321.5" r="17.0" fill="#000" opacity="0.95" filter="url(#blr)"/><circle cx="221.7" cy="319.9" r="15.1" fill="url(#gR)"/><circle cx="254.9" cy="321.5" r="17.0" fill="#000" opacity="0.95" filter="url(#blr)"/><circle cx="254.7" cy="319.9" r="15.1" fill="url(#gW)"/><circle cx="136.9" cy="349.9" r="17.0" fill="#000" opacity="0.95" filter="url(#blr)"/><circle cx="136.7" cy="348.3" r="15.1" fill="url(#gW)"/><circle cx="170.5" cy="349.9" r="17.0" fill="#000" opacity="0.95" filter="url(#blr)"/><circle cx="170.3" cy="348.3" r="15.1" fill="url(#gR)"/><circle cx="204.5" cy="349.9" r="17.0" fill="#000" opacity="0.95" filter="url(#blr)"/><circle cx="204.3" cy="348.3" r="15.1" fill="url(#gMB)"/><circle cx="237.9" cy="349.9" r="17.0" fill="#000" opacity="0.95" filter="url(#blr)"/><circle cx="237.7" cy="348.3" r="15.1" fill="url(#gW)"/><circle cx="152.0" cy="268.0" r="10.2" fill="#000" opacity="0.55" filter="url(#blr)"/><circle cx="151.7" cy="267.5" r="9.4" fill="url(#gN)"/><circle cx="158.4" cy="256.1" r="6.9" fill="#000" opacity="0.55" filter="url(#blr)"/><circle cx="158.1" cy="255.6" r="6.1" fill="url(#gh)"/><circle cx="220.2" cy="264.0" r="10.2" fill="#000" opacity="0.55" filter="url(#blr)"/><circle cx="219.9" cy="263.5" r="9.4" fill="url(#gN)"/><circle cx="214.6" cy="256.0" r="6.9" fill="#000" opacity="0.55" filter="url(#blr)"/><circle cx="214.3" cy="255.5" r="6.1" fill="url(#gh)"/><circle cx="231.6" cy="262.8" r="6.9" fill="#000" opacity="0.55" filter="url(#blr)"/><circle cx="231.3" cy="262.3" r="6.1" fill="url(#gh)"/><circle cx="170.6" cy="288.4" r="10.2" fill="#000" opacity="0.55" filter="url(#blr)"/><circle cx="170.3" cy="287.9" r="9.4" fill="url(#gN)"/><circle cx="164.3" cy="280.4" r="6.9" fill="#000" opacity="0.55" filter="url(#blr)"/><circle cx="164.0" cy="279.9" r="6.1" fill="url(#gh)"/><circle cx="182.4" cy="285.5" r="6.9" fill="#000" opacity="0.55" filter="url(#blr)"/><circle cx="182.1" cy="285.0" r="6.1" fill="url(#gh)"/><circle cx="151.0" cy="329.8" r="10.2" fill="#000" opacity="0.55" filter="url(#blr)"/><circle cx="150.7" cy="329.3" r="9.4" fill="url(#gN)"/><circle cx="154.0" cy="319.8" r="6.9" fill="#000" opacity="0.55" filter="url(#blr)"/><circle cx="153.7" cy="319.3" r="6.1" fill="url(#gh)"/><circle cx="220.2" cy="325.0" r="10.2" fill="#000" opacity="0.55" filter="url(#blr)"/><circle cx="219.9" cy="324.5" r="9.4" fill="url(#gN)"/><circle cx="217.5" cy="315.9" r="6.9" fill="#000" opacity="0.55" filter="url(#blr)"/><circle cx="217.2" cy="315.4" r="6.1" fill="url(#gh)"/><circle cx="231.4" cy="327.1" r="6.9" fill="#000" opacity="0.55" filter="url(#blr)"/><circle cx="231.1" cy="326.6" r="6.1" fill="url(#gh)"/><circle cx="245.5" cy="264.3" r="10.2" fill="#000" opacity="0.55" filter="url(#blr)"/><circle cx="245.2" cy="263.8" r="9.4" fill="url(#gN)"/><circle cx="246.0" cy="327.8" r="10.2" fill="#000" opacity="0.55" filter="url(#blr)"/><circle cx="245.7" cy="327.3" r="9.4" fill="url(#gN)"/><circle cx="198.8" cy="240.8" r="10.2" fill="#000" opacity="0.55" filter="url(#blr)"/><circle cx="198.5" cy="240.3" r="9.4" fill="url(#gN)"/><circle cx="172.0" cy="353.8" r="10.2" fill="#000" opacity="0.55" filter="url(#blr)"/><circle cx="171.7" cy="353.3" r="9.4" fill="url(#gN)"/><circle cx="166.0" cy="345.3" r="6.9" fill="#000" opacity="0.55" filter="url(#blr)"/><circle cx="165.7" cy="344.8" r="6.1" fill="url(#gh)"/><circle cx="180.0" cy="347.3" r="6.9" fill="#000" opacity="0.55" filter="url(#blr)"/><circle cx="179.7" cy="346.8" r="6.1" fill="url(#gh)"/><circle cx="205.6" cy="353.8" r="10.2" fill="#000" opacity="0.55" filter="url(#blr)"/><circle cx="205.3" cy="353.3" r="9.4" fill="url(#gN)"/><circle cx="205.6" cy="345.3" r="6.9" fill="#000" opacity="0.55" filter="url(#blr)"/><circle cx="205.3" cy="344.8" r="6.1" fill="url(#gh)"/><circle cx="186.9" cy="301.1" r="7.0" fill="#000" opacity="0.55" filter="url(#blr)"/><circle cx="186.6" cy="300.6" r="6.2" fill="url(#gN)"/><circle cx="211.7" cy="304.8" r="7.0" fill="#000" opacity="0.55" filter="url(#blr)"/><circle cx="211.4" cy="304.3" r="6.2" fill="url(#gN)"/></g><rect x="139.7" y="247.3" width="13.4" height="14.8" fill="#eeeeee" opacity="0.92"/><text x="146.4" y="259.5" font-size="15" text-anchor="middle" fill="#111" stroke="#111" stroke-width="0.25">b</text>
<g clip-path="url(#clip2)"><rect x="255.9" y="247.3" width="106.6" height="92.2" fill="#c6c2c2"/><circle cx="253.1" cy="235.1" r="17.0" fill="#000" opacity="0.95" filter="url(#blr)"/><circle cx="252.9" cy="233.5" r="15.1" fill="url(#gW)"/><circle cx="286.7" cy="235.1" r="17.0" fill="#000" opacity="0.95" filter="url(#blr)"/><circle cx="286.5" cy="233.5" r="15.1" fill="url(#gW)"/><circle cx="320.7" cy="235.1" r="17.0" fill="#000" opacity="0.95" filter="url(#blr)"/><circle cx="320.5" cy="233.5" r="15.1" fill="url(#gMB)"/><circle cx="354.1" cy="235.1" r="17.0" fill="#000" opacity="0.95" filter="url(#blr)"/><circle cx="353.9" cy="233.5" r="15.1" fill="url(#gW)"/><circle cx="272.1" cy="263.9" r="17.0" fill="#000" opacity="0.95" filter="url(#blr)"/><circle cx="271.9" cy="262.3" r="15.1" fill="url(#gDB)"/><circle cx="304.5" cy="263.9" r="17.0" fill="#000" opacity="0.95" filter="url(#blr)"/><circle cx="304.3" cy="262.3" r="15.1" fill="url(#gW)"/><circle cx="336.9" cy="263.9" r="17.0" fill="#000" opacity="0.95" filter="url(#blr)"/><circle cx="336.7" cy="262.3" r="15.1" fill="url(#gR)"/><circle cx="369.5" cy="263.9" r="17.0" fill="#000" opacity="0.95" filter="url(#blr)"/><circle cx="369.3" cy="262.3" r="15.1" fill="url(#gDB)"/><circle cx="253.1" cy="292.1" r="17.0" fill="#000" opacity="0.95" filter="url(#blr)"/><circle cx="252.9" cy="290.5" r="15.1" fill="url(#gW)"/><circle cx="286.7" cy="292.1" r="17.0" fill="#000" opacity="0.95" filter="url(#blr)"/><circle cx="286.5" cy="290.5" r="15.1" fill="url(#gS)"/><circle cx="320.7" cy="292.1" r="17.0" fill="#000" opacity="0.95" filter="url(#blr)"/><circle cx="320.5" cy="290.5" r="15.1" fill="url(#gS)"/><circle cx="354.1" cy="292.1" r="17.0" fill="#000" opacity="0.95" filter="url(#blr)"/><circle cx="353.9" cy="290.5" r="15.1" fill="url(#gW)"/><circle cx="271.7" cy="321.5" r="17.0" fill="#000" opacity="0.95" filter="url(#blr)"/><circle cx="271.5" cy="319.9" r="15.1" fill="url(#gG)"/><circle cx="304.6" cy="321.5" r="17.0" fill="#000" opacity="0.95" filter="url(#blr)"/><circle cx="304.4" cy="319.9" r="15.1" fill="url(#gS)"/><circle cx="338.1" cy="321.5" r="17.0" fill="#000" opacity="0.95" filter="url(#blr)"/><circle cx="337.9" cy="319.9" r="15.1" fill="url(#gR)"/><circle cx="371.1" cy="321.5" r="17.0" fill="#000" opacity="0.95" filter="url(#blr)"/><circle cx="370.9" cy="319.9" r="15.1" fill="url(#gW2)"/><circle cx="253.1" cy="349.9" r="17.0" fill="#000" opacity="0.95" filter="url(#blr)"/><circle cx="252.9" cy="348.3" r="15.1" fill="url(#gW)"/><circle cx="286.7" cy="349.9" r="17.0" fill="#000" opacity="0.95" filter="url(#blr)"/><circle cx="286.5" cy="348.3" r="15.1" fill="url(#gR)"/><circle cx="320.7" cy="349.9" r="17.0" fill="#000" opacity="0.95" filter="url(#blr)"/><circle cx="320.5" cy="348.3" r="15.1" fill="url(#gMB)"/><circle cx="354.1" cy="349.9" r="17.0" fill="#000" opacity="0.95" filter="url(#blr)"/><circle cx="353.9" cy="348.3" r="15.1" fill="url(#gW)"/><circle cx="268.2" cy="268.0" r="10.2" fill="#000" opacity="0.55" filter="url(#blr)"/><circle cx="267.9" cy="267.5" r="9.4" fill="url(#gN)"/><circle cx="274.6" cy="256.1" r="6.9" fill="#000" opacity="0.55" filter="url(#blr)"/><circle cx="274.3" cy="255.6" r="6.1" fill="url(#gh)"/><circle cx="336.4" cy="264.0" r="10.2" fill="#000" opacity="0.55" filter="url(#blr)"/><circle cx="336.1" cy="263.5" r="9.4" fill="url(#gN)"/><circle cx="330.8" cy="256.0" r="6.9" fill="#000" opacity="0.55" filter="url(#blr)"/><circle cx="330.5" cy="255.5" r="6.1" fill="url(#gh)"/><circle cx="347.8" cy="262.8" r="6.9" fill="#000" opacity="0.55" filter="url(#blr)"/><circle cx="347.5" cy="262.3" r="6.1" fill="url(#gh)"/><circle cx="286.8" cy="288.4" r="10.2" fill="#000" opacity="0.55" filter="url(#blr)"/><circle cx="286.5" cy="287.9" r="9.4" fill="url(#gN)"/><circle cx="280.5" cy="280.4" r="6.9" fill="#000" opacity="0.55" filter="url(#blr)"/><circle cx="280.2" cy="279.9" r="6.1" fill="url(#gh)"/><circle cx="298.6" cy="285.5" r="6.9" fill="#000" opacity="0.55" filter="url(#blr)"/><circle cx="298.3" cy="285.0" r="6.1" fill="url(#gh)"/><circle cx="267.2" cy="329.8" r="10.2" fill="#000" opacity="0.55" filter="url(#blr)"/><circle cx="266.9" cy="329.3" r="9.4" fill="url(#gN)"/><circle cx="270.2" cy="319.8" r="6.9" fill="#000" opacity="0.55" filter="url(#blr)"/><circle cx="269.9" cy="319.3" r="6.1" fill="url(#gh)"/><circle cx="336.4" cy="325.0" r="10.2" fill="#000" opacity="0.55" filter="url(#blr)"/><circle cx="336.1" cy="324.5" r="9.4" fill="url(#gN)"/><circle cx="333.7" cy="315.9" r="6.9" fill="#000" opacity="0.55" filter="url(#blr)"/><circle cx="333.4" cy="315.4" r="6.1" fill="url(#gh)"/><circle cx="347.6" cy="327.1" r="6.9" fill="#000" opacity="0.55" filter="url(#blr)"/><circle cx="347.3" cy="326.6" r="6.1" fill="url(#gh)"/><circle cx="361.7" cy="264.3" r="10.2" fill="#000" opacity="0.55" filter="url(#blr)"/><circle cx="361.4" cy="263.8" r="9.4" fill="url(#gN)"/><circle cx="362.2" cy="327.8" r="10.2" fill="#000" opacity="0.55" filter="url(#blr)"/><circle cx="361.9" cy="327.3" r="9.4" fill="url(#gN)"/><circle cx="315.0" cy="240.8" r="10.2" fill="#000" opacity="0.55" filter="url(#blr)"/><circle cx="314.7" cy="240.3" r="9.4" fill="url(#gN)"/><circle cx="288.2" cy="353.8" r="10.2" fill="#000" opacity="0.55" filter="url(#blr)"/><circle cx="287.9" cy="353.3" r="9.4" fill="url(#gN)"/><circle cx="282.2" cy="345.3" r="6.9" fill="#000" opacity="0.55" filter="url(#blr)"/><circle cx="281.9" cy="344.8" r="6.1" fill="url(#gh)"/><circle cx="296.2" cy="347.3" r="6.9" fill="#000" opacity="0.55" filter="url(#blr)"/><circle cx="295.9" cy="346.8" r="6.1" fill="url(#gh)"/><circle cx="321.8" cy="353.8" r="10.2" fill="#000" opacity="0.55" filter="url(#blr)"/><circle cx="321.5" cy="353.3" r="9.4" fill="url(#gN)"/><circle cx="321.8" cy="345.3" r="6.9" fill="#000" opacity="0.55" filter="url(#blr)"/><circle cx="321.5" cy="344.8" r="6.1" fill="url(#gh)"/><circle cx="303.1" cy="299.3" r="7.0" fill="#000" opacity="0.55" filter="url(#blr)"/><circle cx="302.8" cy="298.8" r="6.2" fill="url(#gN)"/><circle cx="320.5" cy="310.3" r="7.0" fill="#000" opacity="0.55" filter="url(#blr)"/><circle cx="320.2" cy="309.8" r="6.2" fill="url(#gN)"/></g><rect x="255.9" y="247.3" width="13.4" height="14.8" fill="#eeeeee" opacity="0.92"/><text x="262.6" y="259.5" font-size="15" text-anchor="middle" fill="#111" stroke="#111" stroke-width="0.25">c</text>
<g clip-path="url(#clip5)"><rect x="255.9" y="349.2" width="106.6" height="92.4" fill="#c6c2c2"/><circle cx="253.1" cy="337.0" r="17.0" fill="#000" opacity="0.95" filter="url(#blr)"/><circle cx="252.9" cy="335.4" r="15.1" fill="url(#gW)"/><circle cx="286.7" cy="337.0" r="17.0" fill="#000" opacity="0.95" filter="url(#blr)"/><circle cx="286.5" cy="335.4" r="15.1" fill="url(#gW)"/><circle cx="320.7" cy="337.0" r="17.0" fill="#000" opacity="0.95" filter="url(#blr)"/><circle cx="320.5" cy="335.4" r="15.1" fill="url(#gMB)"/><circle cx="354.1" cy="337.0" r="17.0" fill="#000" opacity="0.95" filter="url(#blr)"/><circle cx="353.9" cy="335.4" r="15.1" fill="url(#gW)"/><circle cx="272.1" cy="365.8" r="17.0" fill="#000" opacity="0.95" filter="url(#blr)"/><circle cx="271.9" cy="364.2" r="15.1" fill="url(#gMB)"/><circle cx="304.5" cy="365.8" r="17.0" fill="#000" opacity="0.95" filter="url(#blr)"/><circle cx="304.3" cy="364.2" r="15.1" fill="url(#gW)"/><circle cx="336.9" cy="365.8" r="17.0" fill="#000" opacity="0.95" filter="url(#blr)"/><circle cx="336.7" cy="364.2" r="15.1" fill="url(#gR)"/><circle cx="369.5" cy="365.8" r="17.0" fill="#000" opacity="0.95" filter="url(#blr)"/><circle cx="369.3" cy="364.2" r="15.1" fill="url(#gMB)"/><circle cx="253.1" cy="394.0" r="17.0" fill="#000" opacity="0.95" filter="url(#blr)"/><circle cx="252.9" cy="392.4" r="15.1" fill="url(#gW)"/><circle cx="286.7" cy="394.0" r="17.0" fill="#000" opacity="0.95" filter="url(#blr)"/><circle cx="286.5" cy="392.4" r="15.1" fill="url(#gRP)"/><circle cx="320.7" cy="394.0" r="17.0" fill="#000" opacity="0.95" filter="url(#blr)"/><circle cx="320.5" cy="392.4" r="15.1" fill="url(#gW)"/><circle cx="354.1" cy="394.0" r="17.0" fill="#000" opacity="0.95" filter="url(#blr)"/><circle cx="353.9" cy="392.4" r="15.1" fill="url(#gW)"/><circle cx="271.7" cy="423.4" r="17.0" fill="#000" opacity="0.95" filter="url(#blr)"/><circle cx="271.5" cy="421.8" r="15.1" fill="url(#gG)"/><circle cx="304.6" cy="423.4" r="17.0" fill="#000" opacity="0.95" filter="url(#blr)"/><circle cx="304.4" cy="421.8" r="15.1" fill="url(#gW)"/><circle cx="338.1" cy="423.4" r="17.0" fill="#000" opacity="0.95" filter="url(#blr)"/><circle cx="337.9" cy="421.8" r="15.1" fill="url(#gRP)"/><circle cx="371.1" cy="423.4" r="17.0" fill="#000" opacity="0.95" filter="url(#blr)"/><circle cx="370.9" cy="421.8" r="15.1" fill="url(#gG)"/><circle cx="253.1" cy="451.8" r="17.0" fill="#000" opacity="0.95" filter="url(#blr)"/><circle cx="252.9" cy="450.2" r="15.1" fill="url(#gW)"/><circle cx="286.7" cy="451.8" r="17.0" fill="#000" opacity="0.95" filter="url(#blr)"/><circle cx="286.5" cy="450.2" r="15.1" fill="url(#gR)"/><circle cx="320.7" cy="451.8" r="17.0" fill="#000" opacity="0.95" filter="url(#blr)"/><circle cx="320.5" cy="450.2" r="15.1" fill="url(#gMB)"/><circle cx="354.1" cy="451.8" r="17.0" fill="#000" opacity="0.95" filter="url(#blr)"/><circle cx="353.9" cy="450.2" r="15.1" fill="url(#gW)"/><circle cx="268.2" cy="369.9" r="10.2" fill="#000" opacity="0.55" filter="url(#blr)"/><circle cx="267.9" cy="369.4" r="9.4" fill="url(#gN)"/><circle cx="274.6" cy="358.0" r="6.9" fill="#000" opacity="0.55" filter="url(#blr)"/><circle cx="274.3" cy="357.5" r="6.1" fill="url(#gh)"/><circle cx="336.4" cy="365.9" r="10.2" fill="#000" opacity="0.55" filter="url(#blr)"/><circle cx="336.1" cy="365.4" r="9.4" fill="url(#gN)"/><circle cx="330.8" cy="357.9" r="6.9" fill="#000" opacity="0.55" filter="url(#blr)"/><circle cx="330.5" cy="357.4" r="6.1" fill="url(#gh)"/><circle cx="347.8" cy="364.7" r="6.9" fill="#000" opacity="0.55" filter="url(#blr)"/><circle cx="347.5" cy="364.2" r="6.1" fill="url(#gh)"/><circle cx="286.8" cy="390.3" r="10.2" fill="#000" opacity="0.55" filter="url(#blr)"/><circle cx="286.5" cy="389.8" r="9.4" fill="url(#gN)"/><circle cx="280.5" cy="382.3" r="6.9" fill="#000" opacity="0.55" filter="url(#blr)"/><circle cx="280.2" cy="381.8" r="6.1" fill="url(#gh)"/><circle cx="298.6" cy="387.4" r="6.9" fill="#000" opacity="0.55" filter="url(#blr)"/><circle cx="298.3" cy="386.9" r="6.1" fill="url(#gh)"/><circle cx="267.2" cy="431.7" r="10.2" fill="#000" opacity="0.55" filter="url(#blr)"/><circle cx="266.9" cy="431.2" r="9.4" fill="url(#gN)"/><circle cx="270.2" cy="421.7" r="6.9" fill="#000" opacity="0.55" filter="url(#blr)"/><circle cx="269.9" cy="421.2" r="6.1" fill="url(#gh)"/><circle cx="336.4" cy="426.9" r="10.2" fill="#000" opacity="0.55" filter="url(#blr)"/><circle cx="336.1" cy="426.4" r="9.4" fill="url(#gN)"/><circle cx="333.7" cy="417.8" r="6.9" fill="#000" opacity="0.55" filter="url(#blr)"/><circle cx="333.4" cy="417.3" r="6.1" fill="url(#gh)"/><circle cx="347.6" cy="429.0" r="6.9" fill="#000" opacity="0.55" filter="url(#blr)"/><circle cx="347.3" cy="428.5" r="6.1" fill="url(#gh)"/><circle cx="361.7" cy="366.2" r="10.2" fill="#000" opacity="0.55" filter="url(#blr)"/><circle cx="361.4" cy="365.7" r="9.4" fill="url(#gN)"/><circle cx="362.2" cy="429.7" r="10.2" fill="#000" opacity="0.55" filter="url(#blr)"/><circle cx="361.9" cy="429.2" r="9.4" fill="url(#gN)"/><circle cx="315.0" cy="342.7" r="10.2" fill="#000" opacity="0.55" filter="url(#blr)"/><circle cx="314.7" cy="342.2" r="9.4" fill="url(#gN)"/><circle cx="288.2" cy="455.7" r="10.2" fill="#000" opacity="0.55" filter="url(#blr)"/><circle cx="287.9" cy="455.2" r="9.4" fill="url(#gN)"/><circle cx="282.2" cy="447.2" r="6.9" fill="#000" opacity="0.55" filter="url(#blr)"/><circle cx="281.9" cy="446.7" r="6.1" fill="url(#gh)"/><circle cx="296.2" cy="449.2" r="6.9" fill="#000" opacity="0.55" filter="url(#blr)"/><circle cx="295.9" cy="448.7" r="6.1" fill="url(#gh)"/><circle cx="321.8" cy="455.7" r="10.2" fill="#000" opacity="0.55" filter="url(#blr)"/><circle cx="321.5" cy="455.2" r="9.4" fill="url(#gN)"/><circle cx="321.8" cy="447.2" r="6.9" fill="#000" opacity="0.55" filter="url(#blr)"/><circle cx="321.5" cy="446.7" r="6.1" fill="url(#gh)"/><circle cx="308.6" cy="405.7" r="7.4" fill="#000" opacity="0.55" filter="url(#blr)"/><circle cx="308.3" cy="405.2" r="6.6" fill="url(#gHb)"/><circle cx="317.8" cy="409.4" r="7.4" fill="#000" opacity="0.55" filter="url(#blr)"/><circle cx="317.5" cy="408.9" r="6.6" fill="url(#gHb)"/></g><rect x="255.9" y="349.2" width="13.4" height="14.8" fill="#eeeeee" opacity="0.92"/><text x="262.6" y="361.4" font-size="15" text-anchor="middle" fill="#111" stroke="#111" stroke-width="0.25">d</text>
<g clip-path="url(#clip4)"><rect x="139.7" y="349.2" width="106.4" height="92.4" fill="#c6c2c2"/><circle cx="136.9" cy="337.0" r="17.0" fill="#000" opacity="0.95" filter="url(#blr)"/><circle cx="136.7" cy="335.4" r="15.1" fill="url(#gW)"/><circle cx="170.5" cy="337.0" r="17.0" fill="#000" opacity="0.95" filter="url(#blr)"/><circle cx="170.3" cy="335.4" r="15.1" fill="url(#gW)"/><circle cx="204.5" cy="337.0" r="17.0" fill="#000" opacity="0.95" filter="url(#blr)"/><circle cx="204.3" cy="335.4" r="15.1" fill="url(#gMB)"/><circle cx="237.9" cy="337.0" r="17.0" fill="#000" opacity="0.95" filter="url(#blr)"/><circle cx="237.7" cy="335.4" r="15.1" fill="url(#gW)"/><circle cx="155.9" cy="365.8" r="17.0" fill="#000" opacity="0.95" filter="url(#blr)"/><circle cx="155.7" cy="364.2" r="15.1" fill="url(#gMB)"/><circle cx="188.3" cy="365.8" r="17.0" fill="#000" opacity="0.95" filter="url(#blr)"/><circle cx="188.1" cy="364.2" r="15.1" fill="url(#gW)"/><circle cx="220.7" cy="365.8" r="17.0" fill="#000" opacity="0.95" filter="url(#blr)"/><circle cx="220.5" cy="364.2" r="15.1" fill="url(#gR)"/><circle cx="253.3" cy="365.8" r="17.0" fill="#000" opacity="0.95" filter="url(#blr)"/><circle cx="253.1" cy="364.2" r="15.1" fill="url(#gMB)"/><circle cx="136.9" cy="394.0" r="17.0" fill="#000" opacity="0.95" filter="url(#blr)"/><circle cx="136.7" cy="392.4" r="15.1" fill="url(#gW)"/><circle cx="170.5" cy="394.0" r="17.0" fill="#000" opacity="0.95" filter="url(#blr)"/><circle cx="170.3" cy="392.4" r="15.1" fill="url(#gP)"/><circle cx="204.5" cy="394.0" r="17.0" fill="#000" opacity="0.95" filter="url(#blr)"/><circle cx="204.3" cy="392.4" r="15.1" fill="url(#gG)"/><circle cx="237.9" cy="394.0" r="17.0" fill="#000" opacity="0.95" filter="url(#blr)"/><circle cx="237.7" cy="392.4" r="15.1" fill="url(#gW)"/><circle cx="155.5" cy="423.4" r="17.0" fill="#000" opacity="0.95" filter="url(#blr)"/><circle cx="155.3" cy="421.8" r="15.1" fill="url(#gW)"/><circle cx="188.4" cy="423.4" r="17.0" fill="#000" opacity="0.95" filter="url(#blr)"/><circle cx="188.2" cy="421.8" r="15.1" fill="url(#gG)"/><circle cx="221.9" cy="423.4" r="17.0" fill="#000" opacity="0.95" filter="url(#blr)"/><circle cx="221.7" cy="421.8" r="15.1" fill="url(#gP)"/><circle cx="254.9" cy="423.4" r="17.0" fill="#000" opacity="0.95" filter="url(#blr)"/><circle cx="254.7" cy="421.8" r="15.1" fill="url(#gW)"/><circle cx="136.9" cy="451.8" r="17.0" fill="#000" opacity="0.95" filter="url(#blr)"/><circle cx="136.7" cy="450.2" r="15.1" fill="url(#gW)"/><circle cx="170.5" cy="451.8" r="17.0" fill="#000" opacity="0.95" filter="url(#blr)"/><circle cx="170.3" cy="450.2" r="15.1" fill="url(#gR)"/><circle cx="204.5" cy="451.8" r="17.0" fill="#000" opacity="0.95" filter="url(#blr)"/><circle cx="204.3" cy="450.2" r="15.1" fill="url(#gMB)"/><circle cx="237.9" cy="451.8" r="17.0" fill="#000" opacity="0.95" filter="url(#blr)"/><circle cx="237.7" cy="450.2" r="15.1" fill="url(#gW)"/><circle cx="152.0" cy="369.9" r="10.2" fill="#000" opacity="0.55" filter="url(#blr)"/><circle cx="151.7" cy="369.4" r="9.4" fill="url(#gN)"/><circle cx="158.4" cy="358.0" r="6.9" fill="#000" opacity="0.55" filter="url(#blr)"/><circle cx="158.1" cy="357.5" r="6.1" fill="url(#gh)"/><circle cx="220.2" cy="365.9" r="10.2" fill="#000" opacity="0.55" filter="url(#blr)"/><circle cx="219.9" cy="365.4" r="9.4" fill="url(#gN)"/><circle cx="214.6" cy="357.9" r="6.9" fill="#000" opacity="0.55" filter="url(#blr)"/><circle cx="214.3" cy="357.4" r="6.1" fill="url(#gh)"/><circle cx="231.6" cy="364.7" r="6.9" fill="#000" opacity="0.55" filter="url(#blr)"/><circle cx="231.3" cy="364.2" r="6.1" fill="url(#gh)"/><circle cx="170.6" cy="390.3" r="10.2" fill="#000" opacity="0.55" filter="url(#blr)"/><circle cx="170.3" cy="389.8" r="9.4" fill="url(#gN)"/><circle cx="164.3" cy="382.3" r="6.9" fill="#000" opacity="0.55" filter="url(#blr)"/><circle cx="164.0" cy="381.8" r="6.1" fill="url(#gh)"/><circle cx="182.4" cy="387.4" r="6.9" fill="#000" opacity="0.55" filter="url(#blr)"/><circle cx="182.1" cy="386.9" r="6.1" fill="url(#gh)"/><circle cx="151.0" cy="431.7" r="10.2" fill="#000" opacity="0.55" filter="url(#blr)"/><circle cx="150.7" cy="431.2" r="9.4" fill="url(#gN)"/><circle cx="154.0" cy="421.7" r="6.9" fill="#000" opacity="0.55" filter="url(#blr)"/><circle cx="153.7" cy="421.2" r="6.1" fill="url(#gh)"/><circle cx="220.2" cy="426.9" r="10.2" fill="#000" opacity="0.55" filter="url(#blr)"/><circle cx="219.9" cy="426.4" r="9.4" fill="url(#gN)"/><circle cx="217.5" cy="417.8" r="6.9" fill="#000" opacity="0.55" filter="url(#blr)"/><circle cx="217.2" cy="417.3" r="6.1" fill="url(#gh)"/><circle cx="231.4" cy="429.0" r="6.9" fill="#000" opacity="0.55" filter="url(#blr)"/><circle cx="231.1" cy="428.5" r="6.1" fill="url(#gh)"/><circle cx="245.5" cy="366.2" r="10.2" fill="#000" opacity="0.55" filter="url(#blr)"/><circle cx="245.2" cy="365.7" r="9.4" fill="url(#gN)"/><circle cx="246.0" cy="429.7" r="10.2" fill="#000" opacity="0.55" filter="url(#blr)"/><circle cx="245.7" cy="429.2" r="9.4" fill="url(#gN)"/><circle cx="198.8" cy="342.7" r="10.2" fill="#000" opacity="0.55" filter="url(#blr)"/><circle cx="198.5" cy="342.2" r="9.4" fill="url(#gN)"/><circle cx="172.0" cy="455.7" r="10.2" fill="#000" opacity="0.55" filter="url(#blr)"/><circle cx="171.7" cy="455.2" r="9.4" fill="url(#gN)"/><circle cx="166.0" cy="447.2" r="6.9" fill="#000" opacity="0.55" filter="url(#blr)"/><circle cx="165.7" cy="446.7" r="6.1" fill="url(#gh)"/><circle cx="180.0" cy="449.2" r="6.9" fill="#000" opacity="0.55" filter="url(#blr)"/><circle cx="179.7" cy="448.7" r="6.1" fill="url(#gh)"/><circle cx="205.6" cy="455.7" r="10.2" fill="#000" opacity="0.55" filter="url(#blr)"/><circle cx="205.3" cy="455.2" r="9.4" fill="url(#gN)"/><circle cx="205.6" cy="447.2" r="6.9" fill="#000" opacity="0.55" filter="url(#blr)"/><circle cx="205.3" cy="446.7" r="6.1" fill="url(#gh)"/><circle cx="193.3" cy="406.7" r="7.4" fill="#000" opacity="0.55" filter="url(#blr)"/><circle cx="193.0" cy="406.2" r="6.6" fill="url(#gH)"/><circle cx="201.6" cy="410.4" r="7.4" fill="#000" opacity="0.55" filter="url(#blr)"/><circle cx="201.3" cy="409.9" r="6.6" fill="url(#gH)"/></g><rect x="139.7" y="349.2" width="13.4" height="14.8" fill="#eeeeee" opacity="0.92"/><text x="146.4" y="361.4" font-size="15" text-anchor="middle" fill="#111" stroke="#111" stroke-width="0.25">e</text>
<g clip-path="url(#clip3)"><rect x="22.8" y="349.2" width="107.2" height="92.4" fill="#c6c2c2"/><circle cx="20.0" cy="337.0" r="17.0" fill="#000" opacity="0.95" filter="url(#blr)"/><circle cx="19.8" cy="335.4" r="15.1" fill="url(#gW)"/><circle cx="53.6" cy="337.0" r="17.0" fill="#000" opacity="0.95" filter="url(#blr)"/><circle cx="53.4" cy="335.4" r="15.1" fill="url(#gW)"/><circle cx="87.6" cy="337.0" r="17.0" fill="#000" opacity="0.95" filter="url(#blr)"/><circle cx="87.4" cy="335.4" r="15.1" fill="url(#gMB)"/><circle cx="121.0" cy="337.0" r="17.0" fill="#000" opacity="0.95" filter="url(#blr)"/><circle cx="120.8" cy="335.4" r="15.1" fill="url(#gW)"/><circle cx="39.0" cy="365.8" r="17.0" fill="#000" opacity="0.95" filter="url(#blr)"/><circle cx="38.8" cy="364.2" r="15.1" fill="url(#gMB)"/><circle cx="71.4" cy="365.8" r="17.0" fill="#000" opacity="0.95" filter="url(#blr)"/><circle cx="71.2" cy="364.2" r="15.1" fill="url(#gW2)"/><circle cx="103.8" cy="365.8" r="17.0" fill="#000" opacity="0.95" filter="url(#blr)"/><circle cx="103.6" cy="364.2" r="15.1" fill="url(#gRP)"/><circle cx="136.4" cy="365.8" r="17.0" fill="#000" opacity="0.95" filter="url(#blr)"/><circle cx="136.2" cy="364.2" r="15.1" fill="url(#gMB)"/><circle cx="20.0" cy="394.0" r="17.0" fill="#000" opacity="0.95" filter="url(#blr)"/><circle cx="19.8" cy="392.4" r="15.1" fill="url(#gW)"/><circle cx="53.6" cy="394.0" r="17.0" fill="#000" opacity="0.95" filter="url(#blr)"/><circle cx="53.4" cy="392.4" r="15.1" fill="url(#gRP)"/><circle cx="87.6" cy="394.0" r="17.0" fill="#000" opacity="0.95" filter="url(#blr)"/><circle cx="87.4" cy="392.4" r="15.1" fill="url(#gW)"/><circle cx="121.0" cy="394.0" r="17.0" fill="#000" opacity="0.95" filter="url(#blr)"/><circle cx="120.8" cy="392.4" r="15.1" fill="url(#gW)"/><circle cx="38.6" cy="423.4" r="17.0" fill="#000" opacity="0.95" filter="url(#blr)"/><circle cx="38.4" cy="421.8" r="15.1" fill="url(#gG)"/><circle cx="71.5" cy="423.4" r="17.0" fill="#000" opacity="0.95" filter="url(#blr)"/><circle cx="71.3" cy="421.8" r="15.1" fill="url(#gW)"/><circle cx="105.0" cy="423.4" r="17.0" fill="#000" opacity="0.95" filter="url(#blr)"/><circle cx="104.8" cy="421.8" r="15.1" fill="url(#gP)"/><circle cx="138.0" cy="423.4" r="17.0" fill="#000" opacity="0.95" filter="url(#blr)"/><circle cx="137.8" cy="421.8" r="15.1" fill="url(#gG)"/><circle cx="20.0" cy="451.8" r="17.0" fill="#000" opacity="0.95" filter="url(#blr)"/><circle cx="19.8" cy="450.2" r="15.1" fill="url(#gW)"/><circle cx="53.6" cy="451.8" r="17.0" fill="#000" opacity="0.95" filter="url(#blr)"/><circle cx="53.4" cy="450.2" r="15.1" fill="url(#gR)"/><circle cx="87.6" cy="451.8" r="17.0" fill="#000" opacity="0.95" filter="url(#blr)"/><circle cx="87.4" cy="450.2" r="15.1" fill="url(#gMB)"/><circle cx="121.0" cy="451.8" r="17.0" fill="#000" opacity="0.95" filter="url(#blr)"/><circle cx="120.8" cy="450.2" r="15.1" fill="url(#gW)"/><circle cx="35.1" cy="369.9" r="10.2" fill="#000" opacity="0.55" filter="url(#blr)"/><circle cx="34.8" cy="369.4" r="9.4" fill="url(#gN)"/><circle cx="41.5" cy="358.0" r="6.9" fill="#000" opacity="0.55" filter="url(#blr)"/><circle cx="41.2" cy="357.5" r="6.1" fill="url(#gh)"/><circle cx="103.3" cy="365.9" r="10.2" fill="#000" opacity="0.55" filter="url(#blr)"/><circle cx="103.0" cy="365.4" r="9.4" fill="url(#gN)"/><circle cx="97.7" cy="357.9" r="6.9" fill="#000" opacity="0.55" filter="url(#blr)"/><circle cx="97.4" cy="357.4" r="6.1" fill="url(#gh)"/><circle cx="114.7" cy="364.7" r="6.9" fill="#000" opacity="0.55" filter="url(#blr)"/><circle cx="114.4" cy="364.2" r="6.1" fill="url(#gh)"/><circle cx="53.7" cy="390.3" r="10.2" fill="#000" opacity="0.55" filter="url(#blr)"/><circle cx="53.4" cy="389.8" r="9.4" fill="url(#gN)"/><circle cx="47.4" cy="382.3" r="6.9" fill="#000" opacity="0.55" filter="url(#blr)"/><circle cx="47.1" cy="381.8" r="6.1" fill="url(#gh)"/><circle cx="65.5" cy="387.4" r="6.9" fill="#000" opacity="0.55" filter="url(#blr)"/><circle cx="65.2" cy="386.9" r="6.1" fill="url(#gh)"/><circle cx="34.1" cy="431.7" r="10.2" fill="#000" opacity="0.55" filter="url(#blr)"/><circle cx="33.8" cy="431.2" r="9.4" fill="url(#gN)"/><circle cx="37.1" cy="421.7" r="6.9" fill="#000" opacity="0.55" filter="url(#blr)"/><circle cx="36.8" cy="421.2" r="6.1" fill="url(#gh)"/><circle cx="103.3" cy="426.9" r="10.2" fill="#000" opacity="0.55" filter="url(#blr)"/><circle cx="103.0" cy="426.4" r="9.4" fill="url(#gN)"/><circle cx="100.6" cy="417.8" r="6.9" fill="#000" opacity="0.55" filter="url(#blr)"/><circle cx="100.3" cy="417.3" r="6.1" fill="url(#gh)"/><circle cx="114.5" cy="429.0" r="6.9" fill="#000" opacity="0.55" filter="url(#blr)"/><circle cx="114.2" cy="428.5" r="6.1" fill="url(#gh)"/><circle cx="128.6" cy="366.2" r="10.2" fill="#000" opacity="0.55" filter="url(#blr)"/><circle cx="128.3" cy="365.7" r="9.4" fill="url(#gN)"/><circle cx="129.1" cy="429.7" r="10.2" fill="#000" opacity="0.55" filter="url(#blr)"/><circle cx="128.8" cy="429.2" r="9.4" fill="url(#gN)"/><circle cx="81.9" cy="342.7" r="10.2" fill="#000" opacity="0.55" filter="url(#blr)"/><circle cx="81.6" cy="342.2" r="9.4" fill="url(#gN)"/><circle cx="55.1" cy="455.7" r="10.2" fill="#000" opacity="0.55" filter="url(#blr)"/><circle cx="54.8" cy="455.2" r="9.4" fill="url(#gN)"/><circle cx="49.1" cy="447.2" r="6.9" fill="#000" opacity="0.55" filter="url(#blr)"/><circle cx="48.8" cy="446.7" r="6.1" fill="url(#gh)"/><circle cx="63.1" cy="449.2" r="6.9" fill="#000" opacity="0.55" filter="url(#blr)"/><circle cx="62.8" cy="448.7" r="6.1" fill="url(#gh)"/><circle cx="88.7" cy="455.7" r="10.2" fill="#000" opacity="0.55" filter="url(#blr)"/><circle cx="88.4" cy="455.2" r="9.4" fill="url(#gN)"/><circle cx="88.7" cy="447.2" r="6.9" fill="#000" opacity="0.55" filter="url(#blr)"/><circle cx="88.4" cy="446.7" r="6.1" fill="url(#gh)"/><circle cx="80.1" cy="408.5" r="7.8" fill="#000" opacity="0.55" filter="url(#blr)"/><circle cx="79.8" cy="408.0" r="7.0" fill="url(#gH)"/></g><rect x="22.8" y="349.2" width="13.4" height="14.8" fill="#eeeeee" opacity="0.92"/><text x="29.5" y="361.4" font-size="15" text-anchor="middle" fill="#111" stroke="#111" stroke-width="0.25">f</text>
<g clip-path="url(#clip6)"><rect x="440.9" y="252.9" width="103.7" height="89.6" fill="#c6c2c2"/><circle cx="434.1" cy="234.5" r="16.7" fill="#000" opacity="0.95" filter="url(#blr)"/><circle cx="433.9" cy="232.9" r="14.8" fill="url(#gW)"/><circle cx="467.1" cy="234.5" r="16.7" fill="#000" opacity="0.95" filter="url(#blr)"/><circle cx="466.9" cy="232.9" r="14.8" fill="url(#gW)"/><circle cx="500.1" cy="234.5" r="16.7" fill="#000" opacity="0.95" filter="url(#blr)"/><circle cx="499.9" cy="232.9" r="14.8" fill="url(#gW)"/><circle cx="532.6" cy="234.5" r="16.7" fill="#000" opacity="0.95" filter="url(#blr)"/><circle cx="532.4" cy="232.9" r="14.8" fill="url(#gMB)"/><circle cx="450.6" cy="263.0" r="16.7" fill="#000" opacity="0.95" filter="url(#blr)"/><circle cx="450.4" cy="261.4" r="14.8" fill="url(#gG)"/><circle cx="483.1" cy="263.0" r="16.7" fill="#000" opacity="0.95" filter="url(#blr)"/><circle cx="482.9" cy="261.4" r="14.8" fill="url(#gW)"/><circle cx="516.1" cy="263.0" r="16.7" fill="#000" opacity="0.95" filter="url(#blr)"/><circle cx="515.9" cy="261.4" r="14.8" fill="url(#gR)"/><circle cx="548.6" cy="263.0" r="16.7" fill="#000" opacity="0.95" filter="url(#blr)"/><circle cx="548.4" cy="261.4" r="14.8" fill="url(#gG)"/><circle cx="434.1" cy="291.5" r="16.7" fill="#000" opacity="0.95" filter="url(#blr)"/><circle cx="433.9" cy="289.9" r="14.8" fill="url(#gW2)"/><circle cx="467.1" cy="291.5" r="16.7" fill="#000" opacity="0.95" filter="url(#blr)"/><circle cx="466.9" cy="289.9" r="14.8" fill="url(#gR)"/><circle cx="500.1" cy="291.5" r="16.7" fill="#000" opacity="0.95" filter="url(#blr)"/><circle cx="499.9" cy="289.9" r="14.8" fill="url(#gG)"/><circle cx="532.6" cy="291.5" r="16.7" fill="#000" opacity="0.95" filter="url(#blr)"/><circle cx="532.4" cy="289.9" r="14.8" fill="url(#gW)"/><circle cx="450.6" cy="320.0" r="16.7" fill="#000" opacity="0.95" filter="url(#blr)"/><circle cx="450.4" cy="318.4" r="14.8" fill="url(#gG)"/><circle cx="483.1" cy="320.0" r="16.7" fill="#000" opacity="0.95" filter="url(#blr)"/><circle cx="482.9" cy="318.4" r="14.8" fill="url(#gW)"/><circle cx="516.1" cy="320.0" r="16.7" fill="#000" opacity="0.95" filter="url(#blr)"/><circle cx="515.9" cy="318.4" r="14.8" fill="url(#gRP)"/><circle cx="548.6" cy="320.0" r="16.7" fill="#000" opacity="0.95" filter="url(#blr)"/><circle cx="548.4" cy="318.4" r="14.8" fill="url(#gG)"/><circle cx="434.1" cy="348.5" r="16.7" fill="#000" opacity="0.95" filter="url(#blr)"/><circle cx="433.9" cy="346.9" r="14.8" fill="url(#gW)"/><circle cx="467.1" cy="348.5" r="16.7" fill="#000" opacity="0.95" filter="url(#blr)"/><circle cx="466.9" cy="346.9" r="14.8" fill="url(#gR)"/><circle cx="500.1" cy="348.5" r="16.7" fill="#000" opacity="0.95" filter="url(#blr)"/><circle cx="499.9" cy="346.9" r="14.8" fill="url(#gG)"/><circle cx="532.6" cy="348.5" r="16.7" fill="#000" opacity="0.95" filter="url(#blr)"/><circle cx="532.4" cy="346.9" r="14.8" fill="url(#gW)"/><circle cx="448.2" cy="270.4" r="10.2" fill="#000" opacity="0.55" filter="url(#blr)"/><circle cx="447.9" cy="269.9" r="9.4" fill="url(#gN)"/><circle cx="454.7" cy="258.9" r="6.9" fill="#000" opacity="0.55" filter="url(#blr)"/><circle cx="454.4" cy="258.4" r="6.1" fill="url(#gh)"/><circle cx="514.2" cy="263.9" r="10.2" fill="#000" opacity="0.55" filter="url(#blr)"/><circle cx="513.9" cy="263.4" r="9.4" fill="url(#gN)"/><circle cx="509.7" cy="256.4" r="6.9" fill="#000" opacity="0.55" filter="url(#blr)"/><circle cx="509.4" cy="255.9" r="6.1" fill="url(#gh)"/><circle cx="524.2" cy="262.9" r="6.9" fill="#000" opacity="0.55" filter="url(#blr)"/><circle cx="523.9" cy="262.4" r="6.1" fill="url(#gh)"/><circle cx="541.2" cy="269.4" r="10.2" fill="#000" opacity="0.55" filter="url(#blr)"/><circle cx="540.9" cy="268.9" r="9.4" fill="url(#gN)"/><circle cx="447.7" cy="325.4" r="10.2" fill="#000" opacity="0.55" filter="url(#blr)"/><circle cx="447.4" cy="324.9" r="9.4" fill="url(#gN)"/><circle cx="451.2" cy="315.9" r="6.9" fill="#000" opacity="0.55" filter="url(#blr)"/><circle cx="450.9" cy="315.4" r="6.1" fill="url(#gh)"/><circle cx="541.2" cy="325.4" r="10.2" fill="#000" opacity="0.55" filter="url(#blr)"/><circle cx="540.9" cy="324.9" r="9.4" fill="url(#gN)"/><circle cx="467.2" cy="352.4" r="10.2" fill="#000" opacity="0.55" filter="url(#blr)"/><circle cx="466.9" cy="351.9" r="9.4" fill="url(#gN)"/><circle cx="460.2" cy="342.9" r="6.9" fill="#000" opacity="0.55" filter="url(#blr)"/><circle cx="459.9" cy="342.4" r="6.1" fill="url(#gh)"/><circle cx="474.2" cy="344.4" r="6.9" fill="#000" opacity="0.55" filter="url(#blr)"/><circle cx="473.9" cy="343.9" r="6.1" fill="url(#gh)"/><circle cx="500.2" cy="355.4" r="10.2" fill="#000" opacity="0.55" filter="url(#blr)"/><circle cx="499.9" cy="354.9" r="9.4" fill="url(#gN)"/><circle cx="500.2" cy="343.4" r="6.9" fill="#000" opacity="0.55" filter="url(#blr)"/><circle cx="499.9" cy="342.9" r="6.1" fill="url(#gh)"/><circle cx="533.2" cy="241.4" r="10.2" fill="#000" opacity="0.55" filter="url(#blr)"/><circle cx="532.9" cy="240.9" r="9.4" fill="url(#gN)"/><circle cx="464.2" cy="293.4" r="10.2" fill="#000" opacity="0.55" filter="url(#blr)"/><circle cx="463.9" cy="292.9" r="9.4" fill="url(#gN)"/><circle cx="460.2" cy="283.4" r="6.9" fill="#000" opacity="0.55" filter="url(#blr)"/><circle cx="459.9" cy="282.9" r="6.1" fill="url(#gh)"/><circle cx="475.7" cy="290.4" r="6.9" fill="#000" opacity="0.55" filter="url(#blr)"/><circle cx="475.4" cy="289.9" r="6.1" fill="url(#gh)"/><circle cx="515.2" cy="319.4" r="10.2" fill="#000" opacity="0.55" filter="url(#blr)"/><circle cx="514.9" cy="318.9" r="9.4" fill="url(#gN)"/><circle cx="508.2" cy="310.4" r="6.9" fill="#000" opacity="0.55" filter="url(#blr)"/><circle cx="507.9" cy="309.9" r="6.1" fill="url(#gh)"/><circle cx="525.2" cy="321.4" r="6.9" fill="#000" opacity="0.55" filter="url(#blr)"/><circle cx="524.9" cy="320.9" r="6.1" fill="url(#gh)"/><circle cx="483.4" cy="300.1" r="7.6" fill="#000" opacity="0.55" filter="url(#blr)"/><circle cx="483.1" cy="299.6" r="6.8" fill="url(#gN)"/><circle cx="495.2" cy="297.4" r="10.8" fill="#000" opacity="0.55" filter="url(#blr)"/><circle cx="494.9" cy="296.9" r="10.0" fill="url(#gN)"/><circle cx="501.4" cy="286.7" r="7.0" fill="#000" opacity="0.55" filter="url(#blr)"/><circle cx="501.1" cy="286.2" r="6.2" fill="url(#gh)"/></g><rect x="440.9" y="252.9" width="13.4" height="14.8" fill="#eeeeee" opacity="0.92"/><text x="447.6" y="265.1" font-size="15" text-anchor="middle" fill="#111" stroke="#111" stroke-width="0.25">a</text>
<g clip-path="url(#clip7)"><rect x="554.5" y="252.9" width="104.3" height="89.6" fill="#c6c2c2"/><circle cx="547.7" cy="234.5" r="16.7" fill="#000" opacity="0.95" filter="url(#blr)"/><circle cx="547.5" cy="232.9" r="14.8" fill="url(#gW)"/><circle cx="580.7" cy="234.5" r="16.7" fill="#000" opacity="0.95" filter="url(#blr)"/><circle cx="580.5" cy="232.9" r="14.8" fill="url(#gW)"/><circle cx="613.7" cy="234.5" r="16.7" fill="#000" opacity="0.95" filter="url(#blr)"/><circle cx="613.5" cy="232.9" r="14.8" fill="url(#gW)"/><circle cx="646.2" cy="234.5" r="16.7" fill="#000" opacity="0.95" filter="url(#blr)"/><circle cx="646.0" cy="232.9" r="14.8" fill="url(#gMB)"/><circle cx="564.2" cy="263.0" r="16.7" fill="#000" opacity="0.95" filter="url(#blr)"/><circle cx="564.0" cy="261.4" r="14.8" fill="url(#gLB)"/><circle cx="596.7" cy="263.0" r="16.7" fill="#000" opacity="0.95" filter="url(#blr)"/><circle cx="596.5" cy="261.4" r="14.8" fill="url(#gLB)"/><circle cx="629.7" cy="263.0" r="16.7" fill="#000" opacity="0.95" filter="url(#blr)"/><circle cx="629.5" cy="261.4" r="14.8" fill="url(#gRP)"/><circle cx="662.2" cy="263.0" r="16.7" fill="#000" opacity="0.95" filter="url(#blr)"/><circle cx="662.0" cy="261.4" r="14.8" fill="url(#gLB)"/><circle cx="547.7" cy="291.5" r="16.7" fill="#000" opacity="0.95" filter="url(#blr)"/><circle cx="547.5" cy="289.9" r="14.8" fill="url(#gW)"/><circle cx="580.7" cy="291.5" r="16.7" fill="#000" opacity="0.95" filter="url(#blr)"/><circle cx="580.5" cy="289.9" r="14.8" fill="url(#gRP)"/><circle cx="613.7" cy="291.5" r="16.7" fill="#000" opacity="0.95" filter="url(#blr)"/><circle cx="613.5" cy="289.9" r="14.8" fill="url(#gRP)"/><circle cx="646.2" cy="291.5" r="16.7" fill="#000" opacity="0.95" filter="url(#blr)"/><circle cx="646.0" cy="289.9" r="14.8" fill="url(#gW)"/><circle cx="564.2" cy="320.0" r="16.7" fill="#000" opacity="0.95" filter="url(#blr)"/><circle cx="564.0" cy="318.4" r="14.8" fill="url(#gW)"/><circle cx="596.7" cy="320.0" r="16.7" fill="#000" opacity="0.95" filter="url(#blr)"/><circle cx="596.5" cy="318.4" r="14.8" fill="url(#gW)"/><circle cx="629.7" cy="320.0" r="16.7" fill="#000" opacity="0.95" filter="url(#blr)"/><circle cx="629.5" cy="318.4" r="14.8" fill="url(#gRP)"/><circle cx="662.2" cy="320.0" r="16.7" fill="#000" opacity="0.95" filter="url(#blr)"/><circle cx="662.0" cy="318.4" r="14.8" fill="url(#gW)"/><circle cx="547.7" cy="348.5" r="16.7" fill="#000" opacity="0.95" filter="url(#blr)"/><circle cx="547.5" cy="346.9" r="14.8" fill="url(#gW)"/><circle cx="580.7" cy="348.5" r="16.7" fill="#000" opacity="0.95" filter="url(#blr)"/><circle cx="580.5" cy="346.9" r="14.8" fill="url(#gRP)"/><circle cx="613.7" cy="348.5" r="16.7" fill="#000" opacity="0.95" filter="url(#blr)"/><circle cx="613.5" cy="346.9" r="14.8" fill="url(#gLB)"/><circle cx="646.2" cy="348.5" r="16.7" fill="#000" opacity="0.95" filter="url(#blr)"/><circle cx="646.0" cy="346.9" r="14.8" fill="url(#gLB)"/><circle cx="561.8" cy="270.4" r="10.2" fill="#000" opacity="0.55" filter="url(#blr)"/><circle cx="561.5" cy="269.9" r="9.4" fill="url(#gN)"/><circle cx="568.3" cy="258.9" r="6.9" fill="#000" opacity="0.55" filter="url(#blr)"/><circle cx="568.0" cy="258.4" r="6.1" fill="url(#gh)"/><circle cx="627.8" cy="263.9" r="10.2" fill="#000" opacity="0.55" filter="url(#blr)"/><circle cx="627.5" cy="263.4" r="9.4" fill="url(#gN)"/><circle cx="623.3" cy="256.4" r="6.9" fill="#000" opacity="0.55" filter="url(#blr)"/><circle cx="623.0" cy="255.9" r="6.1" fill="url(#gh)"/><circle cx="637.8" cy="262.9" r="6.9" fill="#000" opacity="0.55" filter="url(#blr)"/><circle cx="637.5" cy="262.4" r="6.1" fill="url(#gh)"/><circle cx="654.8" cy="269.4" r="10.2" fill="#000" opacity="0.55" filter="url(#blr)"/><circle cx="654.5" cy="268.9" r="9.4" fill="url(#gN)"/><circle cx="561.3" cy="325.4" r="10.2" fill="#000" opacity="0.55" filter="url(#blr)"/><circle cx="561.0" cy="324.9" r="9.4" fill="url(#gN)"/><circle cx="564.8" cy="315.9" r="6.9" fill="#000" opacity="0.55" filter="url(#blr)"/><circle cx="564.5" cy="315.4" r="6.1" fill="url(#gh)"/><circle cx="654.8" cy="325.4" r="10.2" fill="#000" opacity="0.55" filter="url(#blr)"/><circle cx="654.5" cy="324.9" r="9.4" fill="url(#gN)"/><circle cx="580.8" cy="352.4" r="10.2" fill="#000" opacity="0.55" filter="url(#blr)"/><circle cx="580.5" cy="351.9" r="9.4" fill="url(#gN)"/><circle cx="573.8" cy="342.9" r="6.9" fill="#000" opacity="0.55" filter="url(#blr)"/><circle cx="573.5" cy="342.4" r="6.1" fill="url(#gh)"/><circle cx="587.8" cy="344.4" r="6.9" fill="#000" opacity="0.55" filter="url(#blr)"/><circle cx="587.5" cy="343.9" r="6.1" fill="url(#gh)"/><circle cx="613.8" cy="355.4" r="10.2" fill="#000" opacity="0.55" filter="url(#blr)"/><circle cx="613.5" cy="354.9" r="9.4" fill="url(#gN)"/><circle cx="613.8" cy="343.4" r="6.9" fill="#000" opacity="0.55" filter="url(#blr)"/><circle cx="613.5" cy="342.9" r="6.1" fill="url(#gh)"/><circle cx="646.8" cy="241.4" r="10.2" fill="#000" opacity="0.55" filter="url(#blr)"/><circle cx="646.5" cy="240.9" r="9.4" fill="url(#gN)"/><circle cx="580.8" cy="287.4" r="10.2" fill="#000" opacity="0.55" filter="url(#blr)"/><circle cx="580.5" cy="286.9" r="9.4" fill="url(#gN)"/><circle cx="573.8" cy="279.4" r="6.9" fill="#000" opacity="0.55" filter="url(#blr)"/><circle cx="573.5" cy="278.9" r="6.1" fill="url(#gh)"/><circle cx="577.3" cy="297.4" r="6.9" fill="#000" opacity="0.55" filter="url(#blr)"/><circle cx="577.0" cy="296.9" r="6.1" fill="url(#gh)"/><circle cx="624.8" cy="317.4" r="10.2" fill="#000" opacity="0.55" filter="url(#blr)"/><circle cx="624.5" cy="316.9" r="9.4" fill="url(#gN)"/><circle cx="622.3" cy="306.4" r="6.9" fill="#000" opacity="0.55" filter="url(#blr)"/><circle cx="622.0" cy="305.9" r="6.1" fill="url(#gh)"/><circle cx="635.8" cy="318.9" r="6.9" fill="#000" opacity="0.55" filter="url(#blr)"/><circle cx="635.5" cy="318.4" r="6.1" fill="url(#gh)"/><circle cx="611.4" cy="290.4" r="10.8" fill="#000" opacity="0.55" filter="url(#blr)"/><circle cx="611.1" cy="289.9" r="10.0" fill="url(#gN)"/><circle cx="616.8" cy="279.4" r="7.0" fill="#000" opacity="0.55" filter="url(#blr)"/><circle cx="616.5" cy="278.9" r="6.2" fill="url(#gh)"/><circle cx="600.6" cy="288.6" r="7.0" fill="#000" opacity="0.55" filter="url(#blr)"/><circle cx="600.3" cy="288.1" r="6.2" fill="url(#gh)"/><circle cx="596.2" cy="300.1" r="7.6" fill="#000" opacity="0.55" filter="url(#blr)"/><circle cx="595.9" cy="299.6" r="6.8" fill="url(#gN)"/></g><rect x="554.5" y="252.9" width="13.4" height="14.8" fill="#eeeeee" opacity="0.92"/><text x="561.2" y="265.1" font-size="15" text-anchor="middle" fill="#111" stroke="#111" stroke-width="0.25">b</text>
<g clip-path="url(#clip8)"><rect x="668.0" y="252.9" width="104.0" height="89.6" fill="#c6c2c2"/><circle cx="661.2" cy="234.5" r="16.7" fill="#000" opacity="0.95" filter="url(#blr)"/><circle cx="661.0" cy="232.9" r="14.8" fill="url(#gW)"/><circle cx="694.2" cy="234.5" r="16.7" fill="#000" opacity="0.95" filter="url(#blr)"/><circle cx="694.0" cy="232.9" r="14.8" fill="url(#gW)"/><circle cx="727.2" cy="234.5" r="16.7" fill="#000" opacity="0.95" filter="url(#blr)"/><circle cx="727.0" cy="232.9" r="14.8" fill="url(#gW)"/><circle cx="759.7" cy="234.5" r="16.7" fill="#000" opacity="0.95" filter="url(#blr)"/><circle cx="759.5" cy="232.9" r="14.8" fill="url(#gMB)"/><circle cx="677.7" cy="263.0" r="16.7" fill="#000" opacity="0.95" filter="url(#blr)"/><circle cx="677.5" cy="261.4" r="14.8" fill="url(#gMB)"/><circle cx="710.2" cy="263.0" r="16.7" fill="#000" opacity="0.95" filter="url(#blr)"/><circle cx="710.0" cy="261.4" r="14.8" fill="url(#gW)"/><circle cx="743.2" cy="263.0" r="16.7" fill="#000" opacity="0.95" filter="url(#blr)"/><circle cx="743.0" cy="261.4" r="14.8" fill="url(#gRP)"/><circle cx="775.7" cy="263.0" r="16.7" fill="#000" opacity="0.95" filter="url(#blr)"/><circle cx="775.5" cy="261.4" r="14.8" fill="url(#gMB)"/><circle cx="661.2" cy="291.5" r="16.7" fill="#000" opacity="0.95" filter="url(#blr)"/><circle cx="661.0" cy="289.9" r="14.8" fill="url(#gW)"/><circle cx="694.2" cy="291.5" r="16.7" fill="#000" opacity="0.95" filter="url(#blr)"/><circle cx="694.0" cy="289.9" r="14.8" fill="url(#gRP)"/><circle cx="727.2" cy="291.5" r="16.7" fill="#000" opacity="0.95" filter="url(#blr)"/><circle cx="727.0" cy="289.9" r="14.8" fill="url(#gPW2)"/><circle cx="759.7" cy="291.5" r="16.7" fill="#000" opacity="0.95" filter="url(#blr)"/><circle cx="759.5" cy="289.9" r="14.8" fill="url(#gW)"/><circle cx="677.7" cy="320.0" r="16.7" fill="#000" opacity="0.95" filter="url(#blr)"/><circle cx="677.5" cy="318.4" r="14.8" fill="url(#gLB)"/><circle cx="710.2" cy="320.0" r="16.7" fill="#000" opacity="0.95" filter="url(#blr)"/><circle cx="710.0" cy="318.4" r="14.8" fill="url(#gP)"/><circle cx="743.2" cy="320.0" r="16.7" fill="#000" opacity="0.95" filter="url(#blr)"/><circle cx="743.0" cy="318.4" r="14.8" fill="url(#gRP)"/><circle cx="775.7" cy="320.0" r="16.7" fill="#000" opacity="0.95" filter="url(#blr)"/><circle cx="775.5" cy="318.4" r="14.8" fill="url(#gLB)"/><circle cx="661.2" cy="348.5" r="16.7" fill="#000" opacity="0.95" filter="url(#blr)"/><circle cx="661.0" cy="346.9" r="14.8" fill="url(#gW)"/><circle cx="694.2" cy="348.5" r="16.7" fill="#000" opacity="0.95" filter="url(#blr)"/><circle cx="694.0" cy="346.9" r="14.8" fill="url(#gRP)"/><circle cx="727.2" cy="348.5" r="16.7" fill="#000" opacity="0.95" filter="url(#blr)"/><circle cx="727.0" cy="346.9" r="14.8" fill="url(#gMB)"/><circle cx="759.7" cy="348.5" r="16.7" fill="#000" opacity="0.95" filter="url(#blr)"/><circle cx="759.5" cy="346.9" r="14.8" fill="url(#gW)"/><circle cx="675.3" cy="270.4" r="10.2" fill="#000" opacity="0.55" filter="url(#blr)"/><circle cx="675.0" cy="269.9" r="9.4" fill="url(#gN)"/><circle cx="681.8" cy="258.9" r="6.9" fill="#000" opacity="0.55" filter="url(#blr)"/><circle cx="681.5" cy="258.4" r="6.1" fill="url(#gh)"/><circle cx="741.3" cy="263.9" r="10.2" fill="#000" opacity="0.55" filter="url(#blr)"/><circle cx="741.0" cy="263.4" r="9.4" fill="url(#gN)"/><circle cx="736.8" cy="256.4" r="6.9" fill="#000" opacity="0.55" filter="url(#blr)"/><circle cx="736.5" cy="255.9" r="6.1" fill="url(#gh)"/><circle cx="751.3" cy="262.9" r="6.9" fill="#000" opacity="0.55" filter="url(#blr)"/><circle cx="751.0" cy="262.4" r="6.1" fill="url(#gh)"/><circle cx="768.3" cy="269.4" r="10.2" fill="#000" opacity="0.55" filter="url(#blr)"/><circle cx="768.0" cy="268.9" r="9.4" fill="url(#gN)"/><circle cx="674.8" cy="325.4" r="10.2" fill="#000" opacity="0.55" filter="url(#blr)"/><circle cx="674.5" cy="324.9" r="9.4" fill="url(#gN)"/><circle cx="678.3" cy="315.9" r="6.9" fill="#000" opacity="0.55" filter="url(#blr)"/><circle cx="678.0" cy="315.4" r="6.1" fill="url(#gh)"/><circle cx="768.3" cy="325.4" r="10.2" fill="#000" opacity="0.55" filter="url(#blr)"/><circle cx="768.0" cy="324.9" r="9.4" fill="url(#gN)"/><circle cx="694.3" cy="352.4" r="10.2" fill="#000" opacity="0.55" filter="url(#blr)"/><circle cx="694.0" cy="351.9" r="9.4" fill="url(#gN)"/><circle cx="687.3" cy="342.9" r="6.9" fill="#000" opacity="0.55" filter="url(#blr)"/><circle cx="687.0" cy="342.4" r="6.1" fill="url(#gh)"/><circle cx="701.3" cy="344.4" r="6.9" fill="#000" opacity="0.55" filter="url(#blr)"/><circle cx="701.0" cy="343.9" r="6.1" fill="url(#gh)"/><circle cx="727.3" cy="355.4" r="10.2" fill="#000" opacity="0.55" filter="url(#blr)"/><circle cx="727.0" cy="354.9" r="9.4" fill="url(#gN)"/><circle cx="727.3" cy="343.4" r="6.9" fill="#000" opacity="0.55" filter="url(#blr)"/><circle cx="727.0" cy="342.9" r="6.1" fill="url(#gh)"/><circle cx="760.3" cy="241.4" r="10.2" fill="#000" opacity="0.55" filter="url(#blr)"/><circle cx="760.0" cy="240.9" r="9.4" fill="url(#gN)"/><circle cx="694.3" cy="285.8" r="10.2" fill="#000" opacity="0.55" filter="url(#blr)"/><circle cx="694.0" cy="285.3" r="9.4" fill="url(#gN)"/><circle cx="686.3" cy="278.6" r="6.9" fill="#000" opacity="0.55" filter="url(#blr)"/><circle cx="686.0" cy="278.1" r="6.1" fill="url(#gh)"/><circle cx="692.6" cy="295.7" r="6.9" fill="#000" opacity="0.55" filter="url(#blr)"/><circle cx="692.3" cy="295.2" r="6.1" fill="url(#gh)"/><circle cx="739.3" cy="319.0" r="10.2" fill="#000" opacity="0.55" filter="url(#blr)"/><circle cx="739.0" cy="318.5" r="9.4" fill="url(#gN)"/><circle cx="736.6" cy="309.1" r="6.9" fill="#000" opacity="0.55" filter="url(#blr)"/><circle cx="736.3" cy="308.6" r="6.1" fill="url(#gh)"/><circle cx="751.0" cy="320.8" r="6.9" fill="#000" opacity="0.55" filter="url(#blr)"/><circle cx="750.7" cy="320.3" r="6.1" fill="url(#gh)"/><circle cx="707.0" cy="309.1" r="7.6" fill="#000" opacity="0.55" filter="url(#blr)"/><circle cx="706.7" cy="308.6" r="6.8" fill="url(#gHb2)"/><circle cx="724.9" cy="296.5" r="10.8" fill="#000" opacity="0.55" filter="url(#blr)"/><circle cx="724.6" cy="296.0" r="10.0" fill="url(#gN)"/><circle cx="723.1" cy="285.8" r="7.0" fill="#000" opacity="0.55" filter="url(#blr)"/><circle cx="722.8" cy="285.3" r="6.2" fill="url(#gh)"/><circle cx="715.9" cy="301.9" r="7.0" fill="#000" opacity="0.55" filter="url(#blr)"/><circle cx="715.6" cy="301.4" r="6.2" fill="url(#gh)"/></g><rect x="668.0" y="252.9" width="13.4" height="14.8" fill="#eeeeee" opacity="0.92"/><text x="674.7" y="265.1" font-size="15" text-anchor="middle" fill="#111" stroke="#111" stroke-width="0.25">c</text>
<g clip-path="url(#clip11)"><rect x="668.0" y="352.6" width="104.0" height="90.4" fill="#c6c2c2"/><circle cx="661.2" cy="334.2" r="16.7" fill="#000" opacity="0.95" filter="url(#blr)"/><circle cx="661.0" cy="332.6" r="14.8" fill="url(#gW)"/><circle cx="694.2" cy="334.2" r="16.7" fill="#000" opacity="0.95" filter="url(#blr)"/><circle cx="694.0" cy="332.6" r="14.8" fill="url(#gW)"/><circle cx="727.2" cy="334.2" r="16.7" fill="#000" opacity="0.95" filter="url(#blr)"/><circle cx="727.0" cy="332.6" r="14.8" fill="url(#gW)"/><circle cx="759.7" cy="334.2" r="16.7" fill="#000" opacity="0.95" filter="url(#blr)"/><circle cx="759.5" cy="332.6" r="14.8" fill="url(#gMB)"/><circle cx="677.7" cy="362.7" r="16.7" fill="#000" opacity="0.95" filter="url(#blr)"/><circle cx="677.5" cy="361.1" r="14.8" fill="url(#gLB)"/><circle cx="710.2" cy="362.7" r="16.7" fill="#000" opacity="0.95" filter="url(#blr)"/><circle cx="710.0" cy="361.1" r="14.8" fill="url(#gLB)"/><circle cx="743.2" cy="362.7" r="16.7" fill="#000" opacity="0.95" filter="url(#blr)"/><circle cx="743.0" cy="361.1" r="14.8" fill="url(#gRP)"/><circle cx="775.7" cy="362.7" r="16.7" fill="#000" opacity="0.95" filter="url(#blr)"/><circle cx="775.5" cy="361.1" r="14.8" fill="url(#gLB)"/><circle cx="661.2" cy="391.2" r="16.7" fill="#000" opacity="0.95" filter="url(#blr)"/><circle cx="661.0" cy="389.6" r="14.8" fill="url(#gLB)"/><circle cx="694.2" cy="391.2" r="16.7" fill="#000" opacity="0.95" filter="url(#blr)"/><circle cx="694.0" cy="389.6" r="14.8" fill="url(#gRP)"/><circle cx="727.2" cy="391.2" r="16.7" fill="#000" opacity="0.95" filter="url(#blr)"/><circle cx="727.0" cy="389.6" r="14.8" fill="url(#gRP)"/><circle cx="759.7" cy="391.2" r="16.7" fill="#000" opacity="0.95" filter="url(#blr)"/><circle cx="759.5" cy="389.6" r="14.8" fill="url(#gLB)"/><circle cx="677.7" cy="419.7" r="16.7" fill="#000" opacity="0.95" filter="url(#blr)"/><circle cx="677.5" cy="418.1" r="14.8" fill="url(#gW2)"/><circle cx="710.2" cy="419.7" r="16.7" fill="#000" opacity="0.95" filter="url(#blr)"/><circle cx="710.0" cy="418.1" r="14.8" fill="url(#gMB)"/><circle cx="743.2" cy="419.7" r="16.7" fill="#000" opacity="0.95" filter="url(#blr)"/><circle cx="743.0" cy="418.1" r="14.8" fill="url(#gRP)"/><circle cx="775.7" cy="419.7" r="16.7" fill="#000" opacity="0.95" filter="url(#blr)"/><circle cx="775.5" cy="418.1" r="14.8" fill="url(#gW2)"/><circle cx="661.2" cy="448.2" r="16.7" fill="#000" opacity="0.95" filter="url(#blr)"/><circle cx="661.0" cy="446.6" r="14.8" fill="url(#gW)"/><circle cx="694.2" cy="448.2" r="16.7" fill="#000" opacity="0.95" filter="url(#blr)"/><circle cx="694.0" cy="446.6" r="14.8" fill="url(#gRP)"/><circle cx="727.2" cy="448.2" r="16.7" fill="#000" opacity="0.95" filter="url(#blr)"/><circle cx="727.0" cy="446.6" r="14.8" fill="url(#gLB)"/><circle cx="759.7" cy="448.2" r="16.7" fill="#000" opacity="0.95" filter="url(#blr)"/><circle cx="759.5" cy="446.6" r="14.8" fill="url(#gLB)"/><circle cx="675.3" cy="370.1" r="10.2" fill="#000" opacity="0.55" filter="url(#blr)"/><circle cx="675.0" cy="369.6" r="9.4" fill="url(#gN)"/><circle cx="681.8" cy="358.6" r="6.9" fill="#000" opacity="0.55" filter="url(#blr)"/><circle cx="681.5" cy="358.1" r="6.1" fill="url(#gh)"/><circle cx="741.3" cy="363.6" r="10.2" fill="#000" opacity="0.55" filter="url(#blr)"/><circle cx="741.0" cy="363.1" r="9.4" fill="url(#gN)"/><circle cx="736.8" cy="356.1" r="6.9" fill="#000" opacity="0.55" filter="url(#blr)"/><circle cx="736.5" cy="355.6" r="6.1" fill="url(#gh)"/><circle cx="751.3" cy="362.6" r="6.9" fill="#000" opacity="0.55" filter="url(#blr)"/><circle cx="751.0" cy="362.1" r="6.1" fill="url(#gh)"/><circle cx="768.3" cy="369.1" r="10.2" fill="#000" opacity="0.55" filter="url(#blr)"/><circle cx="768.0" cy="368.6" r="9.4" fill="url(#gN)"/><circle cx="674.8" cy="425.1" r="10.2" fill="#000" opacity="0.55" filter="url(#blr)"/><circle cx="674.5" cy="424.6" r="9.4" fill="url(#gN)"/><circle cx="678.3" cy="415.6" r="6.9" fill="#000" opacity="0.55" filter="url(#blr)"/><circle cx="678.0" cy="415.1" r="6.1" fill="url(#gh)"/><circle cx="768.3" cy="425.1" r="10.2" fill="#000" opacity="0.55" filter="url(#blr)"/><circle cx="768.0" cy="424.6" r="9.4" fill="url(#gN)"/><circle cx="694.3" cy="452.1" r="10.2" fill="#000" opacity="0.55" filter="url(#blr)"/><circle cx="694.0" cy="451.6" r="9.4" fill="url(#gN)"/><circle cx="687.3" cy="442.6" r="6.9" fill="#000" opacity="0.55" filter="url(#blr)"/><circle cx="687.0" cy="442.1" r="6.1" fill="url(#gh)"/><circle cx="701.3" cy="444.1" r="6.9" fill="#000" opacity="0.55" filter="url(#blr)"/><circle cx="701.0" cy="443.6" r="6.1" fill="url(#gh)"/><circle cx="727.3" cy="455.1" r="10.2" fill="#000" opacity="0.55" filter="url(#blr)"/><circle cx="727.0" cy="454.6" r="9.4" fill="url(#gN)"/><circle cx="727.3" cy="443.1" r="6.9" fill="#000" opacity="0.55" filter="url(#blr)"/><circle cx="727.0" cy="442.6" r="6.1" fill="url(#gh)"/><circle cx="760.3" cy="341.1" r="10.2" fill="#000" opacity="0.55" filter="url(#blr)"/><circle cx="760.0" cy="340.6" r="9.4" fill="url(#gN)"/><circle cx="698.9" cy="391.8" r="10.2" fill="#000" opacity="0.55" filter="url(#blr)"/><circle cx="698.6" cy="391.3" r="9.4" fill="url(#gN)"/><circle cx="696.2" cy="382.8" r="6.9" fill="#000" opacity="0.55" filter="url(#blr)"/><circle cx="695.9" cy="382.3" r="6.1" fill="url(#gh)"/><circle cx="711.4" cy="390.0" r="6.9" fill="#000" opacity="0.55" filter="url(#blr)"/><circle cx="711.1" cy="389.5" r="6.1" fill="url(#gh)"/><circle cx="726.7" cy="390.9" r="10.2" fill="#000" opacity="0.55" filter="url(#blr)"/><circle cx="726.4" cy="390.4" r="9.4" fill="url(#gN)"/><circle cx="732.1" cy="381.0" r="6.9" fill="#000" opacity="0.55" filter="url(#blr)"/><circle cx="731.8" cy="380.5" r="6.1" fill="url(#gh)"/><circle cx="738.4" cy="414.2" r="10.2" fill="#000" opacity="0.55" filter="url(#blr)"/><circle cx="738.1" cy="413.7" r="9.4" fill="url(#gN)"/><circle cx="734.8" cy="402.5" r="6.9" fill="#000" opacity="0.55" filter="url(#blr)"/><circle cx="734.5" cy="402.0" r="6.1" fill="url(#gh)"/><circle cx="749.3" cy="412.4" r="6.9" fill="#000" opacity="0.55" filter="url(#blr)"/><circle cx="749.0" cy="411.9" r="6.1" fill="url(#gh)"/><circle cx="709.7" cy="419.6" r="7.4" fill="#000" opacity="0.55" filter="url(#blr)"/><circle cx="709.4" cy="419.1" r="6.6" fill="url(#gH)"/><circle cx="714.1" cy="416.0" r="7.4" fill="#000" opacity="0.55" filter="url(#blr)"/><circle cx="713.8" cy="415.5" r="6.6" fill="url(#gH)"/></g><rect x="668.0" y="352.6" width="13.4" height="14.8" fill="#eeeeee" opacity="0.92"/><text x="674.7" y="364.8" font-size="15" text-anchor="middle" fill="#111" stroke="#111" stroke-width="0.25">d</text>
<g clip-path="url(#clip10)"><rect x="554.5" y="352.6" width="104.3" height="90.4" fill="#c6c2c2"/><circle cx="547.7" cy="334.2" r="16.7" fill="#000" opacity="0.95" filter="url(#blr)"/><circle cx="547.5" cy="332.6" r="14.8" fill="url(#gW)"/><circle cx="580.7" cy="334.2" r="16.7" fill="#000" opacity="0.95" filter="url(#blr)"/><circle cx="580.5" cy="332.6" r="14.8" fill="url(#gW)"/><circle cx="613.7" cy="334.2" r="16.7" fill="#000" opacity="0.95" filter="url(#blr)"/><circle cx="613.5" cy="332.6" r="14.8" fill="url(#gW)"/><circle cx="646.2" cy="334.2" r="16.7" fill="#000" opacity="0.95" filter="url(#blr)"/><circle cx="646.0" cy="332.6" r="14.8" fill="url(#gMB)"/><circle cx="564.2" cy="362.7" r="16.7" fill="#000" opacity="0.95" filter="url(#blr)"/><circle cx="564.0" cy="361.1" r="14.8" fill="url(#gMB)"/><circle cx="596.7" cy="362.7" r="16.7" fill="#000" opacity="0.95" filter="url(#blr)"/><circle cx="596.5" cy="361.1" r="14.8" fill="url(#gLB)"/><circle cx="629.7" cy="362.7" r="16.7" fill="#000" opacity="0.95" filter="url(#blr)"/><circle cx="629.5" cy="361.1" r="14.8" fill="url(#gRP)"/><circle cx="662.2" cy="362.7" r="16.7" fill="#000" opacity="0.95" filter="url(#blr)"/><circle cx="662.0" cy="361.1" r="14.8" fill="url(#gMB)"/><circle cx="547.7" cy="391.2" r="16.7" fill="#000" opacity="0.95" filter="url(#blr)"/><circle cx="547.5" cy="389.6" r="14.8" fill="url(#gLB)"/><circle cx="580.7" cy="391.2" r="16.7" fill="#000" opacity="0.95" filter="url(#blr)"/><circle cx="580.5" cy="389.6" r="14.8" fill="url(#gRP)"/><circle cx="613.7" cy="391.2" r="16.7" fill="#000" opacity="0.95" filter="url(#blr)"/><circle cx="613.5" cy="389.6" r="14.8" fill="url(#gR)"/><circle cx="646.2" cy="391.2" r="16.7" fill="#000" opacity="0.95" filter="url(#blr)"/><circle cx="646.0" cy="389.6" r="14.8" fill="url(#gLB)"/><circle cx="564.2" cy="419.7" r="16.7" fill="#000" opacity="0.95" filter="url(#blr)"/><circle cx="564.0" cy="418.1" r="14.8" fill="url(#gW2)"/><circle cx="596.7" cy="419.7" r="16.7" fill="#000" opacity="0.95" filter="url(#blr)"/><circle cx="596.5" cy="418.1" r="14.8" fill="url(#gMB)"/><circle cx="629.7" cy="419.7" r="16.7" fill="#000" opacity="0.95" filter="url(#blr)"/><circle cx="629.5" cy="418.1" r="14.8" fill="url(#gR)"/><circle cx="662.2" cy="419.7" r="16.7" fill="#000" opacity="0.95" filter="url(#blr)"/><circle cx="662.0" cy="418.1" r="14.8" fill="url(#gW2)"/><circle cx="547.7" cy="448.2" r="16.7" fill="#000" opacity="0.95" filter="url(#blr)"/><circle cx="547.5" cy="446.6" r="14.8" fill="url(#gW)"/><circle cx="580.7" cy="448.2" r="16.7" fill="#000" opacity="0.95" filter="url(#blr)"/><circle cx="580.5" cy="446.6" r="14.8" fill="url(#gRP)"/><circle cx="613.7" cy="448.2" r="16.7" fill="#000" opacity="0.95" filter="url(#blr)"/><circle cx="613.5" cy="446.6" r="14.8" fill="url(#gLB)"/><circle cx="646.2" cy="448.2" r="16.7" fill="#000" opacity="0.95" filter="url(#blr)"/><circle cx="646.0" cy="446.6" r="14.8" fill="url(#gLB)"/><circle cx="561.8" cy="370.1" r="10.2" fill="#000" opacity="0.55" filter="url(#blr)"/><circle cx="561.5" cy="369.6" r="9.4" fill="url(#gN)"/><circle cx="568.3" cy="358.6" r="6.9" fill="#000" opacity="0.55" filter="url(#blr)"/><circle cx="568.0" cy="358.1" r="6.1" fill="url(#gh)"/><circle cx="627.8" cy="363.6" r="10.2" fill="#000" opacity="0.55" filter="url(#blr)"/><circle cx="627.5" cy="363.1" r="9.4" fill="url(#gN)"/><circle cx="623.3" cy="356.1" r="6.9" fill="#000" opacity="0.55" filter="url(#blr)"/><circle cx="623.0" cy="355.6" r="6.1" fill="url(#gh)"/><circle cx="637.8" cy="362.6" r="6.9" fill="#000" opacity="0.55" filter="url(#blr)"/><circle cx="637.5" cy="362.1" r="6.1" fill="url(#gh)"/><circle cx="654.8" cy="369.1" r="10.2" fill="#000" opacity="0.55" filter="url(#blr)"/><circle cx="654.5" cy="368.6" r="9.4" fill="url(#gN)"/><circle cx="561.3" cy="425.1" r="10.2" fill="#000" opacity="0.55" filter="url(#blr)"/><circle cx="561.0" cy="424.6" r="9.4" fill="url(#gN)"/><circle cx="564.8" cy="415.6" r="6.9" fill="#000" opacity="0.55" filter="url(#blr)"/><circle cx="564.5" cy="415.1" r="6.1" fill="url(#gh)"/><circle cx="654.8" cy="425.1" r="10.2" fill="#000" opacity="0.55" filter="url(#blr)"/><circle cx="654.5" cy="424.6" r="9.4" fill="url(#gN)"/><circle cx="580.8" cy="452.1" r="10.2" fill="#000" opacity="0.55" filter="url(#blr)"/><circle cx="580.5" cy="451.6" r="9.4" fill="url(#gN)"/><circle cx="573.8" cy="442.6" r="6.9" fill="#000" opacity="0.55" filter="url(#blr)"/><circle cx="573.5" cy="442.1" r="6.1" fill="url(#gh)"/><circle cx="587.8" cy="444.1" r="6.9" fill="#000" opacity="0.55" filter="url(#blr)"/><circle cx="587.5" cy="443.6" r="6.1" fill="url(#gh)"/><circle cx="613.8" cy="455.1" r="10.2" fill="#000" opacity="0.55" filter="url(#blr)"/><circle cx="613.5" cy="454.6" r="9.4" fill="url(#gN)"/><circle cx="613.8" cy="443.1" r="6.9" fill="#000" opacity="0.55" filter="url(#blr)"/><circle cx="613.5" cy="442.6" r="6.1" fill="url(#gh)"/><circle cx="646.8" cy="341.1" r="10.2" fill="#000" opacity="0.55" filter="url(#blr)"/><circle cx="646.5" cy="340.6" r="9.4" fill="url(#gN)"/><circle cx="582.7" cy="390.9" r="10.2" fill="#000" opacity="0.55" filter="url(#blr)"/><circle cx="582.4" cy="390.4" r="9.4" fill="url(#gN)"/><circle cx="579.1" cy="381.0" r="6.9" fill="#000" opacity="0.55" filter="url(#blr)"/><circle cx="578.8" cy="380.5" r="6.1" fill="url(#gh)"/><circle cx="595.3" cy="387.3" r="6.9" fill="#000" opacity="0.55" filter="url(#blr)"/><circle cx="595.0" cy="386.8" r="6.1" fill="url(#gh)"/><circle cx="616.0" cy="390.1" r="10.2" fill="#000" opacity="0.55" filter="url(#blr)"/><circle cx="615.7" cy="389.6" r="9.4" fill="url(#gN)"/><circle cx="622.2" cy="381.0" r="6.9" fill="#000" opacity="0.55" filter="url(#blr)"/><circle cx="621.9" cy="380.5" r="6.1" fill="url(#gh)"/><circle cx="625.8" cy="415.1" r="10.2" fill="#000" opacity="0.55" filter="url(#blr)"/><circle cx="625.5" cy="414.6" r="9.4" fill="url(#gN)"/><circle cx="624.0" cy="402.5" r="6.9" fill="#000" opacity="0.55" filter="url(#blr)"/><circle cx="623.7" cy="402.0" r="6.1" fill="url(#gh)"/><circle cx="635.8" cy="413.3" r="6.9" fill="#000" opacity="0.55" filter="url(#blr)"/><circle cx="635.5" cy="412.8" r="6.1" fill="url(#gh)"/><circle cx="595.3" cy="418.7" r="7.4" fill="#000" opacity="0.55" filter="url(#blr)"/><circle cx="595.0" cy="418.2" r="6.6" fill="url(#gH)"/><circle cx="601.5" cy="416.0" r="7.4" fill="#000" opacity="0.55" filter="url(#blr)"/><circle cx="601.2" cy="415.5" r="6.6" fill="url(#gH)"/></g><rect x="554.5" y="352.6" width="13.4" height="14.8" fill="#eeeeee" opacity="0.92"/><text x="561.2" y="364.8" font-size="15" text-anchor="middle" fill="#111" stroke="#111" stroke-width="0.25">e</text>
<g clip-path="url(#clip9)"><rect x="440.9" y="352.6" width="103.7" height="90.4" fill="#c6c2c2"/><circle cx="434.1" cy="334.2" r="16.7" fill="#000" opacity="0.95" filter="url(#blr)"/><circle cx="433.9" cy="332.6" r="14.8" fill="url(#gW)"/><circle cx="467.1" cy="334.2" r="16.7" fill="#000" opacity="0.95" filter="url(#blr)"/><circle cx="466.9" cy="332.6" r="14.8" fill="url(#gW)"/><circle cx="500.1" cy="334.2" r="16.7" fill="#000" opacity="0.95" filter="url(#blr)"/><circle cx="499.9" cy="332.6" r="14.8" fill="url(#gW)"/><circle cx="532.6" cy="334.2" r="16.7" fill="#000" opacity="0.95" filter="url(#blr)"/><circle cx="532.4" cy="332.6" r="14.8" fill="url(#gMB)"/><circle cx="450.6" cy="362.7" r="16.7" fill="#000" opacity="0.95" filter="url(#blr)"/><circle cx="450.4" cy="361.1" r="14.8" fill="url(#gMB)"/><circle cx="483.1" cy="362.7" r="16.7" fill="#000" opacity="0.95" filter="url(#blr)"/><circle cx="482.9" cy="361.1" r="14.8" fill="url(#gW2)"/><circle cx="516.1" cy="362.7" r="16.7" fill="#000" opacity="0.95" filter="url(#blr)"/><circle cx="515.9" cy="361.1" r="14.8" fill="url(#gRP)"/><circle cx="548.6" cy="362.7" r="16.7" fill="#000" opacity="0.95" filter="url(#blr)"/><circle cx="548.4" cy="361.1" r="14.8" fill="url(#gMB)"/><circle cx="434.1" cy="391.2" r="16.7" fill="#000" opacity="0.95" filter="url(#blr)"/><circle cx="433.9" cy="389.6" r="14.8" fill="url(#gPW2)"/><circle cx="467.1" cy="391.2" r="16.7" fill="#000" opacity="0.95" filter="url(#blr)"/><circle cx="466.9" cy="389.6" r="14.8" fill="url(#gR)"/><circle cx="500.1" cy="391.2" r="16.7" fill="#000" opacity="0.95" filter="url(#blr)"/><circle cx="499.9" cy="389.6" r="14.8" fill="url(#gPW2)"/><circle cx="532.6" cy="391.2" r="16.7" fill="#000" opacity="0.95" filter="url(#blr)"/><circle cx="532.4" cy="389.6" r="14.8" fill="url(#gPW2)"/><circle cx="450.6" cy="419.7" r="16.7" fill="#000" opacity="0.95" filter="url(#blr)"/><circle cx="450.4" cy="418.1" r="14.8" fill="url(#gW2)"/><circle cx="483.1" cy="419.7" r="16.7" fill="#000" opacity="0.95" filter="url(#blr)"/><circle cx="482.9" cy="418.1" r="14.8" fill="url(#gG)"/><circle cx="516.1" cy="419.7" r="16.7" fill="#000" opacity="0.95" filter="url(#blr)"/><circle cx="515.9" cy="418.1" r="14.8" fill="url(#gR)"/><circle cx="548.6" cy="419.7" r="16.7" fill="#000" opacity="0.95" filter="url(#blr)"/><circle cx="548.4" cy="418.1" r="14.8" fill="url(#gW2)"/><circle cx="434.1" cy="448.2" r="16.7" fill="#000" opacity="0.95" filter="url(#blr)"/><circle cx="433.9" cy="446.6" r="14.8" fill="url(#gW)"/><circle cx="467.1" cy="448.2" r="16.7" fill="#000" opacity="0.95" filter="url(#blr)"/><circle cx="466.9" cy="446.6" r="14.8" fill="url(#gRP)"/><circle cx="500.1" cy="448.2" r="16.7" fill="#000" opacity="0.95" filter="url(#blr)"/><circle cx="499.9" cy="446.6" r="14.8" fill="url(#gMB)"/><circle cx="532.6" cy="448.2" r="16.7" fill="#000" opacity="0.95" filter="url(#blr)"/><circle cx="532.4" cy="446.6" r="14.8" fill="url(#gW)"/><circle cx="448.2" cy="370.1" r="10.2" fill="#000" opacity="0.55" filter="url(#blr)"/><circle cx="447.9" cy="369.6" r="9.4" fill="url(#gN)"/><circle cx="454.7" cy="358.6" r="6.9" fill="#000" opacity="0.55" filter="url(#blr)"/><circle cx="454.4" cy="358.1" r="6.1" fill="url(#gh)"/><circle cx="514.2" cy="363.6" r="10.2" fill="#000" opacity="0.55" filter="url(#blr)"/><circle cx="513.9" cy="363.1" r="9.4" fill="url(#gN)"/><circle cx="509.7" cy="356.1" r="6.9" fill="#000" opacity="0.55" filter="url(#blr)"/><circle cx="509.4" cy="355.6" r="6.1" fill="url(#gh)"/><circle cx="524.2" cy="362.6" r="6.9" fill="#000" opacity="0.55" filter="url(#blr)"/><circle cx="523.9" cy="362.1" r="6.1" fill="url(#gh)"/><circle cx="541.2" cy="369.1" r="10.2" fill="#000" opacity="0.55" filter="url(#blr)"/><circle cx="540.9" cy="368.6" r="9.4" fill="url(#gN)"/><circle cx="447.7" cy="425.1" r="10.2" fill="#000" opacity="0.55" filter="url(#blr)"/><circle cx="447.4" cy="424.6" r="9.4" fill="url(#gN)"/><circle cx="451.2" cy="415.6" r="6.9" fill="#000" opacity="0.55" filter="url(#blr)"/><circle cx="450.9" cy="415.1" r="6.1" fill="url(#gh)"/><circle cx="541.2" cy="425.1" r="10.2" fill="#000" opacity="0.55" filter="url(#blr)"/><circle cx="540.9" cy="424.6" r="9.4" fill="url(#gN)"/><circle cx="467.2" cy="452.1" r="10.2" fill="#000" opacity="0.55" filter="url(#blr)"/><circle cx="466.9" cy="451.6" r="9.4" fill="url(#gN)"/><circle cx="460.2" cy="442.6" r="6.9" fill="#000" opacity="0.55" filter="url(#blr)"/><circle cx="459.9" cy="442.1" r="6.1" fill="url(#gh)"/><circle cx="474.2" cy="444.1" r="6.9" fill="#000" opacity="0.55" filter="url(#blr)"/><circle cx="473.9" cy="443.6" r="6.1" fill="url(#gh)"/><circle cx="500.2" cy="455.1" r="10.2" fill="#000" opacity="0.55" filter="url(#blr)"/><circle cx="499.9" cy="454.6" r="9.4" fill="url(#gN)"/><circle cx="500.2" cy="443.1" r="6.9" fill="#000" opacity="0.55" filter="url(#blr)"/><circle cx="499.9" cy="442.6" r="6.1" fill="url(#gh)"/><circle cx="533.2" cy="341.1" r="10.2" fill="#000" opacity="0.55" filter="url(#blr)"/><circle cx="532.9" cy="340.6" r="9.4" fill="url(#gN)"/><circle cx="467.2" cy="388.1" r="10.2" fill="#000" opacity="0.55" filter="url(#blr)"/><circle cx="466.9" cy="387.6" r="9.4" fill="url(#gN)"/><circle cx="459.2" cy="379.1" r="6.9" fill="#000" opacity="0.55" filter="url(#blr)"/><circle cx="458.9" cy="378.6" r="6.1" fill="url(#gh)"/><circle cx="477.2" cy="381.9" r="6.9" fill="#000" opacity="0.55" filter="url(#blr)"/><circle cx="476.9" cy="381.4" r="6.1" fill="url(#gh)"/><circle cx="514.0" cy="422.3" r="10.2" fill="#000" opacity="0.55" filter="url(#blr)"/><circle cx="513.7" cy="421.8" r="9.4" fill="url(#gN)"/><circle cx="510.4" cy="416.0" r="6.9" fill="#000" opacity="0.55" filter="url(#blr)"/><circle cx="510.1" cy="415.5" r="6.1" fill="url(#gh)"/><circle cx="524.8" cy="425.9" r="6.9" fill="#000" opacity="0.55" filter="url(#blr)"/><circle cx="524.5" cy="425.4" r="6.1" fill="url(#gh)"/><circle cx="492.4" cy="403.4" r="7.4" fill="#000" opacity="0.55" filter="url(#blr)"/><circle cx="492.1" cy="402.9" r="6.6" fill="url(#gH)"/><circle cx="496.0" cy="402.2" r="7.4" fill="#000" opacity="0.55" filter="url(#blr)"/><circle cx="495.7" cy="401.7" r="6.6" fill="url(#gH)"/><circle cx="515.8" cy="398.0" r="10.8" fill="#000" opacity="0.55" filter="url(#blr)"/><circle cx="515.5" cy="397.5" r="10.0" fill="url(#gN)"/><circle cx="516.7" cy="394.5" r="7.0" fill="#000" opacity="0.55" filter="url(#blr)"/><circle cx="516.4" cy="394.0" r="6.2" fill="url(#gh)"/></g><rect x="440.9" y="352.6" width="13.4" height="14.8" fill="#eeeeee" opacity="0.92"/><text x="447.6" y="364.8" font-size="15" text-anchor="middle" fill="#111" stroke="#111" stroke-width="0.25">f</text>
<path d="M130.8,293.5H133.1" stroke="#222" stroke-width="1"/><path d="M138.6,293.5L133.1,290.5L133.1,296.5Z" fill="#fff" stroke="#222" stroke-width="1"/><path d="M246.9,294.0H249.3" stroke="#222" stroke-width="1"/><path d="M254.8,294.0L249.3,291.0L249.3,297.0Z" fill="#fff" stroke="#222" stroke-width="1"/><path d="M309.3,340.2V343.2" stroke="#222" stroke-width="1"/><path d="M309.3,348.7L306.3,343.2L312.3,343.2Z" fill="#fff" stroke="#222" stroke-width="1"/><path d="M254.8,395.5H252.4" stroke="#222" stroke-width="1"/><path d="M246.9,395.5L252.4,392.5L252.4,398.5Z" fill="#fff" stroke="#222" stroke-width="1"/><path d="M138.6,395.5H136.3" stroke="#222" stroke-width="1"/><path d="M130.8,395.5L136.3,392.5L136.3,398.5Z" fill="#fff" stroke="#222" stroke-width="1"/><path d="M545.4,298.0H548.1" stroke="#222" stroke-width="1"/><path d="M553.6,298.0L548.1,295.0L548.1,301.0Z" fill="#fff" stroke="#222" stroke-width="1"/><path d="M659.5,298.0H661.8" stroke="#222" stroke-width="1"/><path d="M667.3,298.0L661.8,295.0L661.8,301.0Z" fill="#fff" stroke="#222" stroke-width="1"/><path d="M720.1,343.2V346.1" stroke="#222" stroke-width="1"/><path d="M720.1,351.6L717.1,346.1L723.1,346.1Z" fill="#fff" stroke="#222" stroke-width="1"/><path d="M667.3,397.6H665.0" stroke="#222" stroke-width="1"/><path d="M659.5,397.6L665.0,394.6L665.0,400.6Z" fill="#fff" stroke="#222" stroke-width="1"/><path d="M553.6,397.6H550.9" stroke="#222" stroke-width="1"/><path d="M545.4,397.6L550.9,394.6L550.9,400.6Z" fill="#fff" stroke="#222" stroke-width="1"/><defs><radialGradient id="gOr" cx="0.5" cy="0.5" r="0.5" fx="0.5" fy="0.5"><stop offset="0" stop-color="#fffee8"/><stop offset="0.25" stop-color="#fff8b0"/><stop offset="0.45" stop-color="#fedc74"/><stop offset="0.64" stop-color="#f6aa38"/><stop offset="0.84" stop-color="#ea861c"/><stop offset="0.96" stop-color="#d87010"/><stop offset="1" stop-color="#a0500a"/></radialGradient><radialGradient id="gOr2" cx="0.5" cy="0.5" r="0.5" fx="0.55" fy="0.5"><stop offset="0" stop-color="#f8bc54"/><stop offset="0.35" stop-color="#ee9626"/><stop offset="0.75" stop-color="#e27c16"/><stop offset="0.95" stop-color="#cc6a10"/><stop offset="1" stop-color="#9a4c08"/></radialGradient><radialGradient id="gHw" cx="0.5" cy="0.5" r="0.5" fx="0.45" fy="0.45"><stop offset="0" stop-color="#ffffff"/><stop offset="0.6" stop-color="#fdf4f6"/><stop offset="0.88" stop-color="#f0d4dc"/><stop offset="1" stop-color="#c89aa8"/></radialGradient><radialGradient id="gO" cx="0.5" cy="0.5" r="0.5" fx="0.45" fy="0.45"><stop offset="0" stop-color="#ffb4b4"/><stop offset="0.35" stop-color="#f03030"/><stop offset="0.85" stop-color="#e00c0c"/><stop offset="1" stop-color="#a00000"/></radialGradient></defs>
<clipPath id="ec0"><ellipse cx="98.1" cy="142.2" rx="30.5" ry="25.6"/></clipPath><g clip-path="url(#ec0)"><ellipse cx="98.1" cy="142.2" rx="30.5" ry="25.6" fill="#c4640e"/><circle cx="92.0" cy="110.0" r="14.0" fill="url(#gOr2)" stroke="#a85a10" stroke-width="0.6"/><circle cx="121.0" cy="126.0" r="13.0" fill="url(#gOr2)" stroke="#a85a10" stroke-width="0.6"/><circle cx="117.0" cy="158.0" r="13.0" fill="url(#gOr2)" stroke="#a85a10" stroke-width="0.6"/><circle cx="86.0" cy="166.0" r="15.0" fill="url(#gOr2)" stroke="#a85a10" stroke-width="0.6"/><circle cx="66.0" cy="143.0" r="12.0" fill="url(#gOr2)" stroke="#a85a10" stroke-width="0.6"/><circle cx="70.0" cy="122.0" r="10.0" fill="url(#gOr2)" stroke="#a85a10" stroke-width="0.6"/><path d="M106.7,119.0 l-4.2,7.5 l8.4,0z" fill="#f8e48a"/><path d="M103.2,155.1 l-4.2,7.5 l8.4,0z" fill="#f8e48a"/><path d="M72.0,131.5 l-4.2,7.5 l8.4,0z" fill="#f8e48a"/><circle cx="91.8" cy="138.7" r="18.6" fill="url(#gOr)"/><circle cx="81.8" cy="151.1" r="5.4" fill="url(#gHw)"/><circle cx="115.2" cy="139.8" r="5.2" fill="url(#gHw)"/><circle cx="124.2" cy="141.2" r="5.2" fill="url(#gHw)"/><circle cx="127.0" cy="152.0" r="4.0" fill="url(#gO)"/></g><ellipse cx="98.1" cy="142.2" rx="30.5" ry="25.6" fill="none" stroke="#d8d8d8" stroke-width="0.8"/>
<clipPath id="ec1"><ellipse cx="176.8" cy="142.2" rx="30.2" ry="25.6"/></clipPath><g clip-path="url(#ec1)"><ellipse cx="176.8" cy="142.2" rx="30.2" ry="25.6" fill="#c4640e"/><circle cx="172.0" cy="110.0" r="14.0" fill="url(#gOr2)" stroke="#a85a10" stroke-width="0.6"/><circle cx="200.0" cy="126.0" r="13.0" fill="url(#gOr2)" stroke="#a85a10" stroke-width="0.6"/><circle cx="197.0" cy="158.0" r="13.0" fill="url(#gOr2)" stroke="#a85a10" stroke-width="0.6"/><circle cx="166.0" cy="166.0" r="15.0" fill="url(#gOr2)" stroke="#a85a10" stroke-width="0.6"/><circle cx="146.0" cy="143.0" r="12.0" fill="url(#gOr2)" stroke="#a85a10" stroke-width="0.6"/><circle cx="150.0" cy="122.0" r="10.0" fill="url(#gOr2)" stroke="#a85a10" stroke-width="0.6"/><path d="M188.7,119.0 l-4.2,7.5 l8.4,0z" fill="#f8e48a"/><path d="M185.7,155.1 l-4.2,7.5 l8.4,0z" fill="#f8e48a"/><path d="M154.5,132.0 l-4.2,7.5 l8.4,0z" fill="#f8e48a"/><path d="M163.8,116.5 l-4.2,7.5 l8.4,0z" fill="#f8e48a"/><circle cx="174.4" cy="139.9" r="18.6" fill="url(#gOr)"/><circle cx="176.8" cy="138.9" r="5.5" fill="url(#gHw)"/><circle cx="178.6" cy="132.8" r="5.5" fill="url(#gHw)"/><circle cx="205.2" cy="140.5" r="5.0" fill="url(#gHw)"/></g><ellipse cx="176.8" cy="142.2" rx="30.2" ry="25.6" fill="none" stroke="#d8d8d8" stroke-width="0.8"/>
<clipPath id="ec2"><ellipse cx="497.4" cy="183.5" rx="29.6" ry="25.0"/></clipPath><g clip-path="url(#ec2)"><ellipse cx="497.4" cy="183.5" rx="29.6" ry="25.0" fill="#c4640e"/><circle cx="489.8" cy="161.5" r="14.0" fill="url(#gOr2)" stroke="#a85a10" stroke-width="0.6"/><circle cx="487.5" cy="203.0" r="15.0" fill="url(#gOr2)" stroke="#a85a10" stroke-width="0.6"/><circle cx="471.0" cy="184.0" r="13.0" fill="url(#gOr2)" stroke="#a85a10" stroke-width="0.6"/><circle cx="523.0" cy="200.0" r="12.0" fill="url(#gOr2)" stroke="#a85a10" stroke-width="0.6"/><circle cx="520.0" cy="163.0" r="11.0" fill="url(#gOr2)" stroke="#a85a10" stroke-width="0.6"/><path d="M485.3,170.0 l-2.3,4.1 l4.6,0z" fill="#f8e48a"/><path d="M486.4,179.5 l-2.3,4.1 l4.6,0z" fill="#f8e48a"/><path d="M504.4,200.0 l-2.3,4.1 l4.6,0z" fill="#f8e48a"/><circle cx="510.5" cy="181.0" r="19.0" fill="url(#gOr)"/><circle cx="494.9" cy="182.6" r="5.0" fill="url(#gHw)"/><circle cx="499.9" cy="174.7" r="9.0" fill="url(#gO)"/><circle cx="506.7" cy="164.6" r="5.5" fill="url(#gHw)"/><circle cx="487.5" cy="188.8" r="5.5" fill="url(#gHw)"/><circle cx="516.8" cy="192.7" r="5.5" fill="url(#gHw)"/><circle cx="520.5" cy="200.0" r="5.0" fill="url(#gO)"/><circle cx="475.7" cy="169.1" r="5.0" fill="url(#gHw)"/><circle cx="470.0" cy="175.0" r="3.0" fill="url(#gO)"/></g><ellipse cx="497.4" cy="183.5" rx="29.6" ry="25.0" fill="none" stroke="#d8d8d8" stroke-width="0.8"/>
<clipPath id="ec3"><ellipse cx="562.1" cy="184.0" rx="29.3" ry="25.1"/></clipPath><g clip-path="url(#ec3)"><ellipse cx="562.1" cy="184.0" rx="29.3" ry="25.1" fill="#c4640e"/><circle cx="560.0" cy="160.0" r="13.0" fill="url(#gOr2)" stroke="#a85a10" stroke-width="0.6"/><circle cx="584.0" cy="172.0" r="12.0" fill="url(#gOr2)" stroke="#a85a10" stroke-width="0.6"/><circle cx="582.0" cy="203.0" r="13.0" fill="url(#gOr2)" stroke="#a85a10" stroke-width="0.6"/><circle cx="552.0" cy="206.0" r="14.0" fill="url(#gOr2)" stroke="#a85a10" stroke-width="0.6"/><circle cx="537.0" cy="185.0" r="11.0" fill="url(#gOr2)" stroke="#a85a10" stroke-width="0.6"/><circle cx="541.0" cy="164.0" r="10.0" fill="url(#gOr2)" stroke="#a85a10" stroke-width="0.6"/><path d="M572.0,160.3 l-2.5,4.5 l5.0,0z" fill="#f8e48a"/><path d="M545.0,192.3 l-2.5,4.5 l5.0,0z" fill="#f8e48a"/><path d="M569.0,203.3 l-2.5,4.5 l5.0,0z" fill="#f8e48a"/><circle cx="557.0" cy="180.9" r="19.0" fill="url(#gOr)"/><circle cx="548.0" cy="182.0" r="5.5" fill="url(#gHw)"/><circle cx="552.5" cy="177.0" r="5.5" fill="url(#gHw)"/><circle cx="577.3" cy="186.5" r="8.5" fill="url(#gO)"/><circle cx="577.3" cy="179.2" r="5.5" fill="url(#gHw)"/><circle cx="575.0" cy="205.0" r="7.0" fill="url(#gO)"/><circle cx="571.1" cy="198.9" r="5.5" fill="url(#gHw)"/></g><ellipse cx="562.1" cy="184.0" rx="29.3" ry="25.1" fill="none" stroke="#d8d8d8" stroke-width="0.8"/>
<path d="M121.5,120.8Q135.8,110.9 145.3,119.9" fill="none" stroke="#222" stroke-width="1"/><path d="M150.2,122.5L143.9,122.6L146.8,117.3Z" fill="#fff" stroke="#222" stroke-width="1"/>
<path d="M515.6,159.2Q529.5,149.0 538.5,157.9" fill="none" stroke="#222" stroke-width="1"/><path d="M543.3,160.5L537.0,160.5L539.9,155.3Z" fill="#fff" stroke="#222" stroke-width="1"/>
</svg></body></html>
